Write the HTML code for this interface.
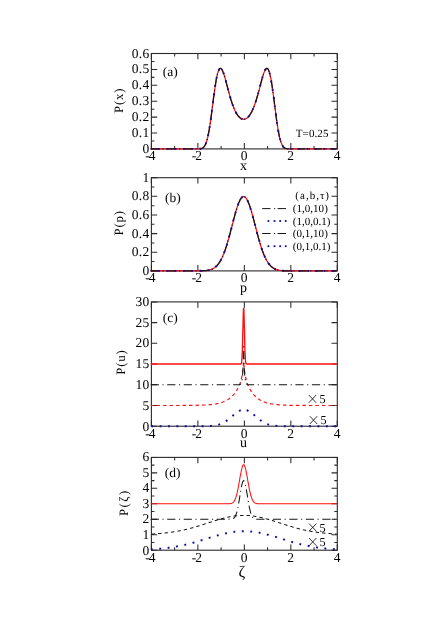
<!DOCTYPE html>
<html><head><meta charset="utf-8"><title>figure</title>
<style>
html,body{margin:0;padding:0;background:#ffffff;}
body{width:436px;height:617px;position:relative;overflow:hidden;font-family:"Liberation Serif",serif;}
</style></head><body>
<svg width="436" height="617" viewBox="0 0 436 617" text-rendering="geometricPrecision" style="position:absolute;left:0;top:0;will-change:transform;opacity:0.999;font-family:'Liberation Serif', serif;">
<rect x="0" y="0" width="436" height="617" fill="#ffffff"/>
<path d="M151.40,148.90 v-5.80 M151.40,53.50 v5.80 M174.64,148.90 v-3.00 M174.64,53.50 v3.00 M197.88,148.90 v-5.80 M197.88,53.50 v5.80 M221.11,148.90 v-3.00 M221.11,53.50 v3.00 M244.35,148.90 v-5.80 M244.35,53.50 v5.80 M267.59,148.90 v-3.00 M267.59,53.50 v3.00 M290.83,148.90 v-5.80 M290.83,53.50 v5.80 M314.06,148.90 v-3.00 M314.06,53.50 v3.00 M337.30,148.90 v-5.80 M337.30,53.50 v5.80 M151.40,148.90 h5.80 M337.30,148.90 h-5.80 M151.40,133.00 h5.80 M337.30,133.00 h-5.80 M151.40,117.10 h5.80 M337.30,117.10 h-5.80 M151.40,101.20 h5.80 M337.30,101.20 h-5.80 M151.40,85.30 h5.80 M337.30,85.30 h-5.80 M151.40,69.40 h5.80 M337.30,69.40 h-5.80 M151.40,53.50 h5.80 M337.30,53.50 h-5.80 M151.40,140.95 h3.00 M337.30,140.95 h-3.00 M151.40,125.05 h3.00 M337.30,125.05 h-3.00 M151.40,109.15 h3.00 M337.30,109.15 h-3.00 M151.40,93.25 h3.00 M337.30,93.25 h-3.00 M151.40,77.35 h3.00 M337.30,77.35 h-3.00 M151.40,61.45 h3.00 M337.30,61.45 h-3.00" fill="none" stroke="#2a2a2a" stroke-width="1.05"/>
<rect x="151.40" y="53.50" width="185.90" height="95.40" fill="none" stroke="#2a2a2a" stroke-width="1.10"/>
<path d="M151.40,270.90 v-5.80 M151.40,177.70 v5.80 M197.88,270.90 v-5.80 M197.88,177.70 v5.80 M244.35,270.90 v-5.80 M244.35,177.70 v5.80 M290.83,270.90 v-5.80 M290.83,177.70 v5.80 M337.30,270.90 v-5.80 M337.30,177.70 v5.80 M151.40,270.90 h5.80 M337.30,270.90 h-5.80 M151.40,252.26 h5.80 M337.30,252.26 h-5.80 M151.40,233.62 h5.80 M337.30,233.62 h-5.80 M151.40,214.98 h5.80 M337.30,214.98 h-5.80 M151.40,196.34 h5.80 M337.30,196.34 h-5.80 M151.40,177.70 h5.80 M337.30,177.70 h-5.80 M151.40,261.58 h3.00 M337.30,261.58 h-3.00 M151.40,242.94 h3.00 M337.30,242.94 h-3.00 M151.40,224.30 h3.00 M337.30,224.30 h-3.00 M151.40,205.66 h3.00 M337.30,205.66 h-3.00 M151.40,187.02 h3.00 M337.30,187.02 h-3.00" fill="none" stroke="#2a2a2a" stroke-width="1.05"/>
<rect x="151.40" y="177.70" width="185.90" height="93.20" fill="none" stroke="#2a2a2a" stroke-width="1.10"/>
<path d="M151.40,426.20 v-5.80 M151.40,301.90 v5.80 M197.88,426.20 v-5.80 M197.88,301.90 v5.80 M244.35,426.20 v-5.80 M244.35,301.90 v5.80 M290.83,426.20 v-5.80 M290.83,301.90 v5.80 M337.30,426.20 v-5.80 M337.30,301.90 v5.80 M151.40,426.20 h5.80 M337.30,426.20 h-5.80 M151.40,405.48 h5.80 M337.30,405.48 h-5.80 M151.40,384.77 h5.80 M337.30,384.77 h-5.80 M151.40,364.05 h5.80 M337.30,364.05 h-5.80 M151.40,343.33 h5.80 M337.30,343.33 h-5.80 M151.40,322.62 h5.80 M337.30,322.62 h-5.80 M151.40,301.90 h5.80 M337.30,301.90 h-5.80" fill="none" stroke="#2a2a2a" stroke-width="1.05"/>
<rect x="151.40" y="301.90" width="185.90" height="124.30" fill="none" stroke="#2a2a2a" stroke-width="1.10"/>
<path d="M151.40,550.20 v-5.80 M151.40,457.40 v5.80 M174.64,550.20 v-3.00 M174.64,457.40 v3.00 M197.88,550.20 v-5.80 M197.88,457.40 v5.80 M221.11,550.20 v-3.00 M221.11,457.40 v3.00 M244.35,550.20 v-5.80 M244.35,457.40 v5.80 M267.59,550.20 v-3.00 M267.59,457.40 v3.00 M290.83,550.20 v-5.80 M290.83,457.40 v5.80 M314.06,550.20 v-3.00 M314.06,457.40 v3.00 M337.30,550.20 v-5.80 M337.30,457.40 v5.80 M151.40,550.20 h5.80 M337.30,550.20 h-5.80 M151.40,534.73 h5.80 M337.30,534.73 h-5.80 M151.40,519.27 h5.80 M337.30,519.27 h-5.80 M151.40,503.80 h5.80 M337.30,503.80 h-5.80 M151.40,488.33 h5.80 M337.30,488.33 h-5.80 M151.40,472.87 h5.80 M337.30,472.87 h-5.80 M151.40,457.40 h5.80 M337.30,457.40 h-5.80 M151.40,542.47 h3.00 M337.30,542.47 h-3.00 M151.40,527.00 h3.00 M337.30,527.00 h-3.00 M151.40,511.53 h3.00 M337.30,511.53 h-3.00 M151.40,496.07 h3.00 M337.30,496.07 h-3.00 M151.40,480.60 h3.00 M337.30,480.60 h-3.00 M151.40,465.13 h3.00 M337.30,465.13 h-3.00" fill="none" stroke="#2a2a2a" stroke-width="1.05"/>
<rect x="151.40" y="457.40" width="185.90" height="92.80" fill="none" stroke="#2a2a2a" stroke-width="1.10"/>
<path d="M150.7,148.9 L151.2,148.9 L151.6,148.9 L152.1,148.9 L152.6,148.9 L153.0,148.9 L153.5,148.9 L154.0,148.9 L154.4,148.9 L154.9,148.9 L155.3,148.9 L155.8,148.9 L156.3,148.9 L156.7,148.9 L157.2,148.9 L157.7,148.9 L158.1,148.9 L158.6,148.9 L159.1,148.9 L159.5,148.9 L160.0,148.9 L160.5,148.9 L160.9,148.9 L161.4,148.9 L161.9,148.9 L162.3,148.9 L162.8,148.9 L163.2,148.9 L163.7,148.9 L164.2,148.9 L164.6,148.9 L165.1,148.9 L165.6,148.9 L166.0,148.9 L166.5,148.9 L167.0,148.9 L167.4,148.9 L167.9,148.9 L168.4,148.9 L168.8,148.9 L169.3,148.9 L169.8,148.9 L170.2,148.9 L170.7,148.9 L171.1,148.9 L171.6,148.9 L172.1,148.9 L172.5,148.9 L173.0,148.9 L173.5,148.9 L173.9,148.9 L174.4,148.9 L174.9,148.9 L175.3,148.9 L175.8,148.9 L176.3,148.9 L176.7,148.9 L177.2,148.9 L177.7,148.9 L178.1,148.9 L178.6,148.9 L179.0,148.9 L179.5,148.9 L180.0,148.9 L180.4,148.9 L180.9,148.9 L181.4,148.9 L181.8,148.9 L182.3,148.9 L182.8,148.9 L183.2,148.9 L183.7,148.9 L184.2,148.9 L184.6,148.9 L185.1,148.9 L185.6,148.9 L186.0,148.9 L186.5,148.9 L187.0,148.9 L187.4,148.9 L187.9,148.9 L188.3,148.9 L188.8,148.9 L189.3,148.9 L189.7,148.9 L190.2,148.9 L190.7,148.9 L191.1,148.9 L191.6,148.9 L192.1,148.9 L192.5,148.9 L193.0,148.9 L193.5,148.9 L193.9,148.9 L194.4,148.9 L194.9,148.9 L195.3,148.9 L195.8,148.9 L196.2,148.9 L196.7,148.9 L197.2,148.9 L197.6,148.9 L198.1,148.9 L198.6,148.9 L199.0,148.8 L199.5,148.8 L200.0,148.8 L200.4,148.7 L200.9,148.6 L201.4,148.5 L201.8,148.4 L202.3,148.2 L202.8,147.9 L203.2,147.6 L203.7,147.2 L204.1,146.6 L204.6,146.0 L205.1,145.2 L205.5,144.3 L206.0,143.1 L206.5,141.8 L206.9,140.3 L207.4,138.6 L207.9,136.6 L208.3,134.4 L208.8,132.0 L209.3,129.4 L209.7,126.5 L210.2,123.5 L210.7,120.2 L211.1,116.8 L211.6,113.3 L212.0,109.8 L212.5,106.1 L213.0,102.5 L213.4,98.9 L213.9,95.3 L214.4,91.9 L214.8,88.6 L215.3,85.4 L215.8,82.5 L216.2,79.8 L216.7,77.4 L217.2,75.3 L217.6,73.4 L218.1,71.8 L218.6,70.5 L219.0,69.6 L219.5,68.9 L219.9,68.5 L220.4,68.3 L220.9,68.5 L221.3,68.8 L221.8,69.4 L222.3,70.2 L222.7,71.2 L223.2,72.3 L223.7,73.6 L224.1,75.0 L224.6,76.5 L225.1,78.1 L225.5,79.8 L226.0,81.5 L226.5,83.3 L226.9,85.0 L227.4,86.8 L227.8,88.6 L228.3,90.3 L228.8,92.1 L229.2,93.8 L229.7,95.4 L230.2,97.0 L230.6,98.6 L231.1,100.1 L231.6,101.6 L232.0,103.0 L232.5,104.3 L233.0,105.6 L233.4,106.9 L233.9,108.0 L234.4,109.1 L234.8,110.2 L235.3,111.1 L235.7,112.1 L236.2,112.9 L236.7,113.7 L237.1,114.4 L237.6,115.1 L238.1,115.8 L238.5,116.3 L239.0,116.8 L239.5,117.3 L239.9,117.7 L240.4,118.1 L240.9,118.4 L241.3,118.7 L241.8,118.9 L242.3,119.1 L242.7,119.2 L243.2,119.2 L243.7,119.3 L244.1,119.2 L244.6,119.2 L245.0,119.1 L245.5,118.9 L246.0,118.7 L246.4,118.4 L246.9,118.1 L247.4,117.7 L247.8,117.3 L248.3,116.8 L248.8,116.3 L249.2,115.8 L249.7,115.1 L250.2,114.4 L250.6,113.7 L251.1,112.9 L251.6,112.1 L252.0,111.1 L252.5,110.2 L252.9,109.1 L253.4,108.0 L253.9,106.9 L254.3,105.6 L254.8,104.3 L255.3,103.0 L255.7,101.6 L256.2,100.1 L256.7,98.6 L257.1,97.0 L257.6,95.4 L258.1,93.8 L258.5,92.1 L259.0,90.3 L259.5,88.6 L259.9,86.8 L260.4,85.0 L260.8,83.3 L261.3,81.5 L261.8,79.8 L262.2,78.1 L262.7,76.5 L263.2,75.0 L263.6,73.6 L264.1,72.3 L264.6,71.2 L265.0,70.2 L265.5,69.4 L266.0,68.8 L266.4,68.5 L266.9,68.3 L267.4,68.5 L267.8,68.9 L268.3,69.6 L268.7,70.5 L269.2,71.8 L269.7,73.4 L270.1,75.3 L270.6,77.4 L271.1,79.8 L271.5,82.5 L272.0,85.4 L272.5,88.6 L272.9,91.9 L273.4,95.3 L273.9,98.9 L274.3,102.5 L274.8,106.1 L275.3,109.8 L275.7,113.3 L276.2,116.8 L276.6,120.2 L277.1,123.5 L277.6,126.5 L278.0,129.4 L278.5,132.0 L279.0,134.4 L279.4,136.6 L279.9,138.6 L280.4,140.3 L280.8,141.8 L281.3,143.1 L281.8,144.3 L282.2,145.2 L282.7,146.0 L283.2,146.6 L283.6,147.2 L284.1,147.6 L284.5,147.9 L285.0,148.2 L285.5,148.4 L285.9,148.5 L286.4,148.6 L286.9,148.7 L287.3,148.8 L287.8,148.8 L288.3,148.8 L288.7,148.9 L289.2,148.9 L289.7,148.9 L290.1,148.9 L290.6,148.9 L291.1,148.9 L291.5,148.9 L292.0,148.9 L292.4,148.9 L292.9,148.9 L293.4,148.9 L293.8,148.9 L294.3,148.9 L294.8,148.9 L295.2,148.9 L295.7,148.9 L296.2,148.9 L296.6,148.9 L297.1,148.9 L297.6,148.9 L298.0,148.9 L298.5,148.9 L299.0,148.9 L299.4,148.9 L299.9,148.9 L300.3,148.9 L300.8,148.9 L301.3,148.9 L301.7,148.9 L302.2,148.9 L302.7,148.9 L303.1,148.9 L303.6,148.9 L304.1,148.9 L304.5,148.9 L305.0,148.9 L305.5,148.9 L305.9,148.9 L306.4,148.9 L306.9,148.9 L307.3,148.9 L307.8,148.9 L308.3,148.9 L308.7,148.9 L309.2,148.9 L309.6,148.9 L310.1,148.9 L310.6,148.9 L311.0,148.9 L311.5,148.9 L312.0,148.9 L312.4,148.9 L312.9,148.9 L313.4,148.9 L313.8,148.9 L314.3,148.9 L314.8,148.9 L315.2,148.9 L315.7,148.9 L316.2,148.9 L316.6,148.9 L317.1,148.9 L317.5,148.9 L318.0,148.9 L318.5,148.9 L318.9,148.9 L319.4,148.9 L319.9,148.9 L320.3,148.9 L320.8,148.9 L321.3,148.9 L321.7,148.9 L322.2,148.9 L322.7,148.9 L323.1,148.9 L323.6,148.9 L324.1,148.9 L324.5,148.9 L325.0,148.9 L325.4,148.9 L325.9,148.9 L326.4,148.9 L326.8,148.9 L327.3,148.9 L327.8,148.9 L328.2,148.9 L328.7,148.9 L329.2,148.9 L329.6,148.9 L330.1,148.9 L330.6,148.9 L331.0,148.9 L331.5,148.9 L332.0,148.9 L332.4,148.9 L332.9,148.9 L333.3,148.9 L333.8,148.9 L334.3,148.9 L334.7,148.9 L335.2,148.9 L335.7,148.9 L336.1,148.9 L336.6,148.9" fill="none" stroke="#ff1010" stroke-width="1.25" stroke-linejoin="round"/>
<path d="M150.7,148.9 L151.2,148.9 L151.6,148.9 L152.1,148.9 L152.6,148.9 L153.0,148.9 L153.5,148.9 L154.0,148.9 L154.4,148.9 L154.9,148.9 L155.3,148.9 L155.8,148.9 L156.3,148.9 L156.7,148.9 L157.2,148.9 L157.7,148.9 L158.1,148.9 L158.6,148.9 L159.1,148.9 L159.5,148.9 L160.0,148.9 L160.5,148.9 L160.9,148.9 L161.4,148.9 L161.9,148.9 L162.3,148.9 L162.8,148.9 L163.2,148.9 L163.7,148.9 L164.2,148.9 L164.6,148.9 L165.1,148.9 L165.6,148.9 L166.0,148.9 L166.5,148.9 L167.0,148.9 L167.4,148.9 L167.9,148.9 L168.4,148.9 L168.8,148.9 L169.3,148.9 L169.8,148.9 L170.2,148.9 L170.7,148.9 L171.1,148.9 L171.6,148.9 L172.1,148.9 L172.5,148.9 L173.0,148.9 L173.5,148.9 L173.9,148.9 L174.4,148.9 L174.9,148.9 L175.3,148.9 L175.8,148.9 L176.3,148.9 L176.7,148.9 L177.2,148.9 L177.7,148.9 L178.1,148.9 L178.6,148.9 L179.0,148.9 L179.5,148.9 L180.0,148.9 L180.4,148.9 L180.9,148.9 L181.4,148.9 L181.8,148.9 L182.3,148.9 L182.8,148.9 L183.2,148.9 L183.7,148.9 L184.2,148.9 L184.6,148.9 L185.1,148.9 L185.6,148.9 L186.0,148.9 L186.5,148.9 L187.0,148.9 L187.4,148.9 L187.9,148.9 L188.3,148.9 L188.8,148.9 L189.3,148.9 L189.7,148.9 L190.2,148.9 L190.7,148.9 L191.1,148.9 L191.6,148.9 L192.1,148.9 L192.5,148.9 L193.0,148.9 L193.5,148.9 L193.9,148.9 L194.4,148.9 L194.9,148.9 L195.3,148.9 L195.8,148.9 L196.2,148.9 L196.7,148.9 L197.2,148.9 L197.6,148.9 L198.1,148.9 L198.6,148.9 L199.0,148.8 L199.5,148.8 L200.0,148.8 L200.4,148.7 L200.9,148.6 L201.4,148.5 L201.8,148.4 L202.3,148.2 L202.8,147.9 L203.2,147.6 L203.7,147.2 L204.1,146.6 L204.6,146.0 L205.1,145.2 L205.5,144.3 L206.0,143.1 L206.5,141.8 L206.9,140.3 L207.4,138.6 L207.9,136.6 L208.3,134.4 L208.8,132.0 L209.3,129.4 L209.7,126.5 L210.2,123.5 L210.7,120.2 L211.1,116.8 L211.6,113.3 L212.0,109.8 L212.5,106.1 L213.0,102.5 L213.4,98.9 L213.9,95.3 L214.4,91.9 L214.8,88.6 L215.3,85.4 L215.8,82.5 L216.2,79.8 L216.7,77.4 L217.2,75.3 L217.6,73.4 L218.1,71.8 L218.6,70.5 L219.0,69.6 L219.5,68.9 L219.9,68.5 L220.4,68.3 L220.9,68.5 L221.3,68.8 L221.8,69.4 L222.3,70.2 L222.7,71.2 L223.2,72.3 L223.7,73.6 L224.1,75.0 L224.6,76.5 L225.1,78.1 L225.5,79.8 L226.0,81.5 L226.5,83.3 L226.9,85.0 L227.4,86.8 L227.8,88.6 L228.3,90.3 L228.8,92.1 L229.2,93.8 L229.7,95.4 L230.2,97.0 L230.6,98.6 L231.1,100.1 L231.6,101.6 L232.0,103.0 L232.5,104.3 L233.0,105.6 L233.4,106.9 L233.9,108.0 L234.4,109.1 L234.8,110.2 L235.3,111.1 L235.7,112.1 L236.2,112.9 L236.7,113.7 L237.1,114.4 L237.6,115.1 L238.1,115.8 L238.5,116.3 L239.0,116.8 L239.5,117.3 L239.9,117.7 L240.4,118.1 L240.9,118.4 L241.3,118.7 L241.8,118.9 L242.3,119.1 L242.7,119.2 L243.2,119.2 L243.7,119.3 L244.1,119.2 L244.6,119.2 L245.0,119.1 L245.5,118.9 L246.0,118.7 L246.4,118.4 L246.9,118.1 L247.4,117.7 L247.8,117.3 L248.3,116.8 L248.8,116.3 L249.2,115.8 L249.7,115.1 L250.2,114.4 L250.6,113.7 L251.1,112.9 L251.6,112.1 L252.0,111.1 L252.5,110.2 L252.9,109.1 L253.4,108.0 L253.9,106.9 L254.3,105.6 L254.8,104.3 L255.3,103.0 L255.7,101.6 L256.2,100.1 L256.7,98.6 L257.1,97.0 L257.6,95.4 L258.1,93.8 L258.5,92.1 L259.0,90.3 L259.5,88.6 L259.9,86.8 L260.4,85.0 L260.8,83.3 L261.3,81.5 L261.8,79.8 L262.2,78.1 L262.7,76.5 L263.2,75.0 L263.6,73.6 L264.1,72.3 L264.6,71.2 L265.0,70.2 L265.5,69.4 L266.0,68.8 L266.4,68.5 L266.9,68.3 L267.4,68.5 L267.8,68.9 L268.3,69.6 L268.7,70.5 L269.2,71.8 L269.7,73.4 L270.1,75.3 L270.6,77.4 L271.1,79.8 L271.5,82.5 L272.0,85.4 L272.5,88.6 L272.9,91.9 L273.4,95.3 L273.9,98.9 L274.3,102.5 L274.8,106.1 L275.3,109.8 L275.7,113.3 L276.2,116.8 L276.6,120.2 L277.1,123.5 L277.6,126.5 L278.0,129.4 L278.5,132.0 L279.0,134.4 L279.4,136.6 L279.9,138.6 L280.4,140.3 L280.8,141.8 L281.3,143.1 L281.8,144.3 L282.2,145.2 L282.7,146.0 L283.2,146.6 L283.6,147.2 L284.1,147.6 L284.5,147.9 L285.0,148.2 L285.5,148.4 L285.9,148.5 L286.4,148.6 L286.9,148.7 L287.3,148.8 L287.8,148.8 L288.3,148.8 L288.7,148.9 L289.2,148.9 L289.7,148.9 L290.1,148.9 L290.6,148.9 L291.1,148.9 L291.5,148.9 L292.0,148.9 L292.4,148.9 L292.9,148.9 L293.4,148.9 L293.8,148.9 L294.3,148.9 L294.8,148.9 L295.2,148.9 L295.7,148.9 L296.2,148.9 L296.6,148.9 L297.1,148.9 L297.6,148.9 L298.0,148.9 L298.5,148.9 L299.0,148.9 L299.4,148.9 L299.9,148.9 L300.3,148.9 L300.8,148.9 L301.3,148.9 L301.7,148.9 L302.2,148.9 L302.7,148.9 L303.1,148.9 L303.6,148.9 L304.1,148.9 L304.5,148.9 L305.0,148.9 L305.5,148.9 L305.9,148.9 L306.4,148.9 L306.9,148.9 L307.3,148.9 L307.8,148.9 L308.3,148.9 L308.7,148.9 L309.2,148.9 L309.6,148.9 L310.1,148.9 L310.6,148.9 L311.0,148.9 L311.5,148.9 L312.0,148.9 L312.4,148.9 L312.9,148.9 L313.4,148.9 L313.8,148.9 L314.3,148.9 L314.8,148.9 L315.2,148.9 L315.7,148.9 L316.2,148.9 L316.6,148.9 L317.1,148.9 L317.5,148.9 L318.0,148.9 L318.5,148.9 L318.9,148.9 L319.4,148.9 L319.9,148.9 L320.3,148.9 L320.8,148.9 L321.3,148.9 L321.7,148.9 L322.2,148.9 L322.7,148.9 L323.1,148.9 L323.6,148.9 L324.1,148.9 L324.5,148.9 L325.0,148.9 L325.4,148.9 L325.9,148.9 L326.4,148.9 L326.8,148.9 L327.3,148.9 L327.8,148.9 L328.2,148.9 L328.7,148.9 L329.2,148.9 L329.6,148.9 L330.1,148.9 L330.6,148.9 L331.0,148.9 L331.5,148.9 L332.0,148.9 L332.4,148.9 L332.9,148.9 L333.3,148.9 L333.8,148.9 L334.3,148.9 L334.7,148.9 L335.2,148.9 L335.7,148.9 L336.1,148.9 L336.6,148.9" fill="none" stroke="#151515" stroke-width="1.25" stroke-dasharray="8.2 3.6 1.1 3.6" stroke-dashoffset="0.0" stroke-linejoin="round"/>
<path d="M150.7,148.9 L151.2,148.9 L151.6,148.9 L152.1,148.9 L152.6,148.9 L153.0,148.9 L153.5,148.9 L154.0,148.9 L154.4,148.9 L154.9,148.9 L155.3,148.9 L155.8,148.9 L156.3,148.9 L156.7,148.9 L157.2,148.9 L157.7,148.9 L158.1,148.9 L158.6,148.9 L159.1,148.9 L159.5,148.9 L160.0,148.9 L160.5,148.9 L160.9,148.9 L161.4,148.9 L161.9,148.9 L162.3,148.9 L162.8,148.9 L163.2,148.9 L163.7,148.9 L164.2,148.9 L164.6,148.9 L165.1,148.9 L165.6,148.9 L166.0,148.9 L166.5,148.9 L167.0,148.9 L167.4,148.9 L167.9,148.9 L168.4,148.9 L168.8,148.9 L169.3,148.9 L169.8,148.9 L170.2,148.9 L170.7,148.9 L171.1,148.9 L171.6,148.9 L172.1,148.9 L172.5,148.9 L173.0,148.9 L173.5,148.9 L173.9,148.9 L174.4,148.9 L174.9,148.9 L175.3,148.9 L175.8,148.9 L176.3,148.9 L176.7,148.9 L177.2,148.9 L177.7,148.9 L178.1,148.9 L178.6,148.9 L179.0,148.9 L179.5,148.9 L180.0,148.9 L180.4,148.9 L180.9,148.9 L181.4,148.9 L181.8,148.9 L182.3,148.9 L182.8,148.9 L183.2,148.9 L183.7,148.9 L184.2,148.9 L184.6,148.9 L185.1,148.9 L185.6,148.9 L186.0,148.9 L186.5,148.9 L187.0,148.9 L187.4,148.9 L187.9,148.9 L188.3,148.9 L188.8,148.9 L189.3,148.9 L189.7,148.9 L190.2,148.9 L190.7,148.9 L191.1,148.9 L191.6,148.9 L192.1,148.9 L192.5,148.9 L193.0,148.9 L193.5,148.9 L193.9,148.9 L194.4,148.9 L194.9,148.9 L195.3,148.9 L195.8,148.9 L196.2,148.9 L196.7,148.9 L197.2,148.9 L197.6,148.9 L198.1,148.9 L198.6,148.9 L199.0,148.8 L199.5,148.8 L200.0,148.8 L200.4,148.7 L200.9,148.6 L201.4,148.5 L201.8,148.4 L202.3,148.2 L202.8,147.9 L203.2,147.6 L203.7,147.2 L204.1,146.6 L204.6,146.0 L205.1,145.2 L205.5,144.3 L206.0,143.1 L206.5,141.8 L206.9,140.3 L207.4,138.6 L207.9,136.6 L208.3,134.4 L208.8,132.0 L209.3,129.4 L209.7,126.5 L210.2,123.5 L210.7,120.2 L211.1,116.8 L211.6,113.3 L212.0,109.8 L212.5,106.1 L213.0,102.5 L213.4,98.9 L213.9,95.3 L214.4,91.9 L214.8,88.6 L215.3,85.4 L215.8,82.5 L216.2,79.8 L216.7,77.4 L217.2,75.3 L217.6,73.4 L218.1,71.8 L218.6,70.5 L219.0,69.6 L219.5,68.9 L219.9,68.5 L220.4,68.3 L220.9,68.5 L221.3,68.8 L221.8,69.4 L222.3,70.2 L222.7,71.2 L223.2,72.3 L223.7,73.6 L224.1,75.0 L224.6,76.5 L225.1,78.1 L225.5,79.8 L226.0,81.5 L226.5,83.3 L226.9,85.0 L227.4,86.8 L227.8,88.6 L228.3,90.3 L228.8,92.1 L229.2,93.8 L229.7,95.4 L230.2,97.0 L230.6,98.6 L231.1,100.1 L231.6,101.6 L232.0,103.0 L232.5,104.3 L233.0,105.6 L233.4,106.9 L233.9,108.0 L234.4,109.1 L234.8,110.2 L235.3,111.1 L235.7,112.1 L236.2,112.9 L236.7,113.7 L237.1,114.4 L237.6,115.1 L238.1,115.8 L238.5,116.3 L239.0,116.8 L239.5,117.3 L239.9,117.7 L240.4,118.1 L240.9,118.4 L241.3,118.7 L241.8,118.9 L242.3,119.1 L242.7,119.2 L243.2,119.2 L243.7,119.3 L244.1,119.2 L244.6,119.2 L245.0,119.1 L245.5,118.9 L246.0,118.7 L246.4,118.4 L246.9,118.1 L247.4,117.7 L247.8,117.3 L248.3,116.8 L248.8,116.3 L249.2,115.8 L249.7,115.1 L250.2,114.4 L250.6,113.7 L251.1,112.9 L251.6,112.1 L252.0,111.1 L252.5,110.2 L252.9,109.1 L253.4,108.0 L253.9,106.9 L254.3,105.6 L254.8,104.3 L255.3,103.0 L255.7,101.6 L256.2,100.1 L256.7,98.6 L257.1,97.0 L257.6,95.4 L258.1,93.8 L258.5,92.1 L259.0,90.3 L259.5,88.6 L259.9,86.8 L260.4,85.0 L260.8,83.3 L261.3,81.5 L261.8,79.8 L262.2,78.1 L262.7,76.5 L263.2,75.0 L263.6,73.6 L264.1,72.3 L264.6,71.2 L265.0,70.2 L265.5,69.4 L266.0,68.8 L266.4,68.5 L266.9,68.3 L267.4,68.5 L267.8,68.9 L268.3,69.6 L268.7,70.5 L269.2,71.8 L269.7,73.4 L270.1,75.3 L270.6,77.4 L271.1,79.8 L271.5,82.5 L272.0,85.4 L272.5,88.6 L272.9,91.9 L273.4,95.3 L273.9,98.9 L274.3,102.5 L274.8,106.1 L275.3,109.8 L275.7,113.3 L276.2,116.8 L276.6,120.2 L277.1,123.5 L277.6,126.5 L278.0,129.4 L278.5,132.0 L279.0,134.4 L279.4,136.6 L279.9,138.6 L280.4,140.3 L280.8,141.8 L281.3,143.1 L281.8,144.3 L282.2,145.2 L282.7,146.0 L283.2,146.6 L283.6,147.2 L284.1,147.6 L284.5,147.9 L285.0,148.2 L285.5,148.4 L285.9,148.5 L286.4,148.6 L286.9,148.7 L287.3,148.8 L287.8,148.8 L288.3,148.8 L288.7,148.9 L289.2,148.9 L289.7,148.9 L290.1,148.9 L290.6,148.9 L291.1,148.9 L291.5,148.9 L292.0,148.9 L292.4,148.9 L292.9,148.9 L293.4,148.9 L293.8,148.9 L294.3,148.9 L294.8,148.9 L295.2,148.9 L295.7,148.9 L296.2,148.9 L296.6,148.9 L297.1,148.9 L297.6,148.9 L298.0,148.9 L298.5,148.9 L299.0,148.9 L299.4,148.9 L299.9,148.9 L300.3,148.9 L300.8,148.9 L301.3,148.9 L301.7,148.9 L302.2,148.9 L302.7,148.9 L303.1,148.9 L303.6,148.9 L304.1,148.9 L304.5,148.9 L305.0,148.9 L305.5,148.9 L305.9,148.9 L306.4,148.9 L306.9,148.9 L307.3,148.9 L307.8,148.9 L308.3,148.9 L308.7,148.9 L309.2,148.9 L309.6,148.9 L310.1,148.9 L310.6,148.9 L311.0,148.9 L311.5,148.9 L312.0,148.9 L312.4,148.9 L312.9,148.9 L313.4,148.9 L313.8,148.9 L314.3,148.9 L314.8,148.9 L315.2,148.9 L315.7,148.9 L316.2,148.9 L316.6,148.9 L317.1,148.9 L317.5,148.9 L318.0,148.9 L318.5,148.9 L318.9,148.9 L319.4,148.9 L319.9,148.9 L320.3,148.9 L320.8,148.9 L321.3,148.9 L321.7,148.9 L322.2,148.9 L322.7,148.9 L323.1,148.9 L323.6,148.9 L324.1,148.9 L324.5,148.9 L325.0,148.9 L325.4,148.9 L325.9,148.9 L326.4,148.9 L326.8,148.9 L327.3,148.9 L327.8,148.9 L328.2,148.9 L328.7,148.9 L329.2,148.9 L329.6,148.9 L330.1,148.9 L330.6,148.9 L331.0,148.9 L331.5,148.9 L332.0,148.9 L332.4,148.9 L332.9,148.9 L333.3,148.9 L333.8,148.9 L334.3,148.9 L334.7,148.9 L335.2,148.9 L335.7,148.9 L336.1,148.9 L336.6,148.9" fill="none" stroke="#0c0ca0" stroke-width="1.9" stroke-dasharray="1.9 6.4" stroke-dashoffset="1.0" stroke-linejoin="round"/>
<path d="M150.7,270.9 L151.2,270.9 L151.6,270.9 L152.1,270.9 L152.6,270.9 L153.0,270.9 L153.5,270.9 L154.0,270.9 L154.4,270.9 L154.9,270.9 L155.3,270.9 L155.8,270.9 L156.3,270.9 L156.7,270.9 L157.2,270.9 L157.7,270.9 L158.1,270.9 L158.6,270.9 L159.1,270.9 L159.5,270.9 L160.0,270.9 L160.5,270.9 L160.9,270.9 L161.4,270.9 L161.9,270.9 L162.3,270.9 L162.8,270.9 L163.2,270.9 L163.7,270.9 L164.2,270.9 L164.6,270.9 L165.1,270.9 L165.6,270.9 L166.0,270.9 L166.5,270.9 L167.0,270.9 L167.4,270.9 L167.9,270.9 L168.4,270.9 L168.8,270.9 L169.3,270.9 L169.8,270.9 L170.2,270.9 L170.7,270.9 L171.1,270.9 L171.6,270.9 L172.1,270.9 L172.5,270.9 L173.0,270.9 L173.5,270.9 L173.9,270.9 L174.4,270.9 L174.9,270.9 L175.3,270.9 L175.8,270.9 L176.3,270.9 L176.7,270.9 L177.2,270.9 L177.7,270.9 L178.1,270.9 L178.6,270.9 L179.0,270.9 L179.5,270.9 L180.0,270.9 L180.4,270.9 L180.9,270.9 L181.4,270.9 L181.8,270.9 L182.3,270.9 L182.8,270.9 L183.2,270.9 L183.7,270.9 L184.2,270.9 L184.6,270.9 L185.1,270.9 L185.6,270.9 L186.0,270.9 L186.5,270.9 L187.0,270.9 L187.4,270.9 L187.9,270.9 L188.3,270.9 L188.8,270.9 L189.3,270.9 L189.7,270.9 L190.2,270.9 L190.7,270.9 L191.1,270.9 L191.6,270.9 L192.1,270.9 L192.5,270.9 L193.0,270.9 L193.5,270.9 L193.9,270.9 L194.4,270.9 L194.9,270.9 L195.3,270.9 L195.8,270.9 L196.2,270.9 L196.7,270.9 L197.2,270.9 L197.6,270.9 L198.1,270.9 L198.6,270.9 L199.0,270.9 L199.5,270.8 L200.0,270.8 L200.4,270.8 L200.9,270.8 L201.4,270.8 L201.8,270.8 L202.3,270.8 L202.8,270.7 L203.2,270.7 L203.7,270.7 L204.1,270.7 L204.6,270.6 L205.1,270.6 L205.5,270.6 L206.0,270.5 L206.5,270.5 L206.9,270.4 L207.4,270.3 L207.9,270.3 L208.3,270.2 L208.8,270.1 L209.3,270.0 L209.7,269.9 L210.2,269.7 L210.7,269.6 L211.1,269.4 L211.6,269.3 L212.0,269.1 L212.5,268.9 L213.0,268.6 L213.4,268.4 L213.9,268.1 L214.4,267.8 L214.8,267.5 L215.3,267.1 L215.8,266.7 L216.2,266.3 L216.7,265.9 L217.2,265.4 L217.6,264.8 L218.1,264.3 L218.6,263.7 L219.0,263.0 L219.5,262.4 L219.9,261.6 L220.4,260.8 L220.9,260.0 L221.3,259.1 L221.8,258.2 L222.3,257.2 L222.7,256.2 L223.2,255.1 L223.7,254.0 L224.1,252.8 L224.6,251.5 L225.1,250.2 L225.5,248.9 L226.0,247.5 L226.5,246.0 L226.9,244.5 L227.4,243.0 L227.8,241.4 L228.3,239.8 L228.8,238.1 L229.2,236.4 L229.7,234.7 L230.2,233.0 L230.6,231.2 L231.1,229.4 L231.6,227.6 L232.0,225.8 L232.5,224.0 L233.0,222.2 L233.4,220.4 L233.9,218.6 L234.4,216.9 L234.8,215.2 L235.3,213.5 L235.7,211.9 L236.2,210.3 L236.7,208.8 L237.1,207.3 L237.6,205.9 L238.1,204.6 L238.5,203.4 L239.0,202.3 L239.5,201.2 L239.9,200.2 L240.4,199.4 L240.9,198.6 L241.3,198.0 L241.8,197.5 L242.3,197.1 L242.7,196.8 L243.2,196.6 L243.7,196.5 L244.1,196.6 L244.6,196.8 L245.0,197.1 L245.5,197.5 L246.0,198.0 L246.4,198.6 L246.9,199.4 L247.4,200.2 L247.8,201.2 L248.3,202.3 L248.8,203.4 L249.2,204.6 L249.7,205.9 L250.2,207.3 L250.6,208.8 L251.1,210.3 L251.6,211.9 L252.0,213.5 L252.5,215.2 L252.9,216.9 L253.4,218.6 L253.9,220.4 L254.3,222.2 L254.8,224.0 L255.3,225.8 L255.7,227.6 L256.2,229.4 L256.7,231.2 L257.1,233.0 L257.6,234.7 L258.1,236.4 L258.5,238.1 L259.0,239.8 L259.5,241.4 L259.9,243.0 L260.4,244.5 L260.8,246.0 L261.3,247.5 L261.8,248.9 L262.2,250.2 L262.7,251.5 L263.2,252.8 L263.6,254.0 L264.1,255.1 L264.6,256.2 L265.0,257.2 L265.5,258.2 L266.0,259.1 L266.4,260.0 L266.9,260.8 L267.4,261.6 L267.8,262.4 L268.3,263.0 L268.7,263.7 L269.2,264.3 L269.7,264.8 L270.1,265.4 L270.6,265.9 L271.1,266.3 L271.5,266.7 L272.0,267.1 L272.5,267.5 L272.9,267.8 L273.4,268.1 L273.9,268.4 L274.3,268.6 L274.8,268.9 L275.3,269.1 L275.7,269.3 L276.2,269.4 L276.6,269.6 L277.1,269.7 L277.6,269.9 L278.0,270.0 L278.5,270.1 L279.0,270.2 L279.4,270.3 L279.9,270.3 L280.4,270.4 L280.8,270.5 L281.3,270.5 L281.8,270.6 L282.2,270.6 L282.7,270.6 L283.2,270.7 L283.6,270.7 L284.1,270.7 L284.5,270.7 L285.0,270.8 L285.5,270.8 L285.9,270.8 L286.4,270.8 L286.9,270.8 L287.3,270.8 L287.8,270.8 L288.3,270.9 L288.7,270.9 L289.2,270.9 L289.7,270.9 L290.1,270.9 L290.6,270.9 L291.1,270.9 L291.5,270.9 L292.0,270.9 L292.4,270.9 L292.9,270.9 L293.4,270.9 L293.8,270.9 L294.3,270.9 L294.8,270.9 L295.2,270.9 L295.7,270.9 L296.2,270.9 L296.6,270.9 L297.1,270.9 L297.6,270.9 L298.0,270.9 L298.5,270.9 L299.0,270.9 L299.4,270.9 L299.9,270.9 L300.3,270.9 L300.8,270.9 L301.3,270.9 L301.7,270.9 L302.2,270.9 L302.7,270.9 L303.1,270.9 L303.6,270.9 L304.1,270.9 L304.5,270.9 L305.0,270.9 L305.5,270.9 L305.9,270.9 L306.4,270.9 L306.9,270.9 L307.3,270.9 L307.8,270.9 L308.3,270.9 L308.7,270.9 L309.2,270.9 L309.6,270.9 L310.1,270.9 L310.6,270.9 L311.0,270.9 L311.5,270.9 L312.0,270.9 L312.4,270.9 L312.9,270.9 L313.4,270.9 L313.8,270.9 L314.3,270.9 L314.8,270.9 L315.2,270.9 L315.7,270.9 L316.2,270.9 L316.6,270.9 L317.1,270.9 L317.5,270.9 L318.0,270.9 L318.5,270.9 L318.9,270.9 L319.4,270.9 L319.9,270.9 L320.3,270.9 L320.8,270.9 L321.3,270.9 L321.7,270.9 L322.2,270.9 L322.7,270.9 L323.1,270.9 L323.6,270.9 L324.1,270.9 L324.5,270.9 L325.0,270.9 L325.4,270.9 L325.9,270.9 L326.4,270.9 L326.8,270.9 L327.3,270.9 L327.8,270.9 L328.2,270.9 L328.7,270.9 L329.2,270.9 L329.6,270.9 L330.1,270.9 L330.6,270.9 L331.0,270.9 L331.5,270.9 L332.0,270.9 L332.4,270.9 L332.9,270.9 L333.3,270.9 L333.8,270.9 L334.3,270.9 L334.7,270.9 L335.2,270.9 L335.7,270.9 L336.1,270.9 L336.6,270.9" fill="none" stroke="#ff1010" stroke-width="1.25" stroke-linejoin="round"/>
<path d="M150.7,270.9 L151.2,270.9 L151.6,270.9 L152.1,270.9 L152.6,270.9 L153.0,270.9 L153.5,270.9 L154.0,270.9 L154.4,270.9 L154.9,270.9 L155.3,270.9 L155.8,270.9 L156.3,270.9 L156.7,270.9 L157.2,270.9 L157.7,270.9 L158.1,270.9 L158.6,270.9 L159.1,270.9 L159.5,270.9 L160.0,270.9 L160.5,270.9 L160.9,270.9 L161.4,270.9 L161.9,270.9 L162.3,270.9 L162.8,270.9 L163.2,270.9 L163.7,270.9 L164.2,270.9 L164.6,270.9 L165.1,270.9 L165.6,270.9 L166.0,270.9 L166.5,270.9 L167.0,270.9 L167.4,270.9 L167.9,270.9 L168.4,270.9 L168.8,270.9 L169.3,270.9 L169.8,270.9 L170.2,270.9 L170.7,270.9 L171.1,270.9 L171.6,270.9 L172.1,270.9 L172.5,270.9 L173.0,270.9 L173.5,270.9 L173.9,270.9 L174.4,270.9 L174.9,270.9 L175.3,270.9 L175.8,270.9 L176.3,270.9 L176.7,270.9 L177.2,270.9 L177.7,270.9 L178.1,270.9 L178.6,270.9 L179.0,270.9 L179.5,270.9 L180.0,270.9 L180.4,270.9 L180.9,270.9 L181.4,270.9 L181.8,270.9 L182.3,270.9 L182.8,270.9 L183.2,270.9 L183.7,270.9 L184.2,270.9 L184.6,270.9 L185.1,270.9 L185.6,270.9 L186.0,270.9 L186.5,270.9 L187.0,270.9 L187.4,270.9 L187.9,270.9 L188.3,270.9 L188.8,270.9 L189.3,270.9 L189.7,270.9 L190.2,270.9 L190.7,270.9 L191.1,270.9 L191.6,270.9 L192.1,270.9 L192.5,270.9 L193.0,270.9 L193.5,270.9 L193.9,270.9 L194.4,270.9 L194.9,270.9 L195.3,270.9 L195.8,270.9 L196.2,270.9 L196.7,270.9 L197.2,270.9 L197.6,270.9 L198.1,270.9 L198.6,270.9 L199.0,270.9 L199.5,270.8 L200.0,270.8 L200.4,270.8 L200.9,270.8 L201.4,270.8 L201.8,270.8 L202.3,270.8 L202.8,270.7 L203.2,270.7 L203.7,270.7 L204.1,270.7 L204.6,270.6 L205.1,270.6 L205.5,270.6 L206.0,270.5 L206.5,270.5 L206.9,270.4 L207.4,270.3 L207.9,270.3 L208.3,270.2 L208.8,270.1 L209.3,270.0 L209.7,269.9 L210.2,269.7 L210.7,269.6 L211.1,269.4 L211.6,269.3 L212.0,269.1 L212.5,268.9 L213.0,268.6 L213.4,268.4 L213.9,268.1 L214.4,267.8 L214.8,267.5 L215.3,267.1 L215.8,266.7 L216.2,266.3 L216.7,265.9 L217.2,265.4 L217.6,264.8 L218.1,264.3 L218.6,263.7 L219.0,263.0 L219.5,262.4 L219.9,261.6 L220.4,260.8 L220.9,260.0 L221.3,259.1 L221.8,258.2 L222.3,257.2 L222.7,256.2 L223.2,255.1 L223.7,254.0 L224.1,252.8 L224.6,251.5 L225.1,250.2 L225.5,248.9 L226.0,247.5 L226.5,246.0 L226.9,244.5 L227.4,243.0 L227.8,241.4 L228.3,239.8 L228.8,238.1 L229.2,236.4 L229.7,234.7 L230.2,233.0 L230.6,231.2 L231.1,229.4 L231.6,227.6 L232.0,225.8 L232.5,224.0 L233.0,222.2 L233.4,220.4 L233.9,218.6 L234.4,216.9 L234.8,215.2 L235.3,213.5 L235.7,211.9 L236.2,210.3 L236.7,208.8 L237.1,207.3 L237.6,205.9 L238.1,204.6 L238.5,203.4 L239.0,202.3 L239.5,201.2 L239.9,200.2 L240.4,199.4 L240.9,198.6 L241.3,198.0 L241.8,197.5 L242.3,197.1 L242.7,196.8 L243.2,196.6 L243.7,196.5 L244.1,196.6 L244.6,196.8 L245.0,197.1 L245.5,197.5 L246.0,198.0 L246.4,198.6 L246.9,199.4 L247.4,200.2 L247.8,201.2 L248.3,202.3 L248.8,203.4 L249.2,204.6 L249.7,205.9 L250.2,207.3 L250.6,208.8 L251.1,210.3 L251.6,211.9 L252.0,213.5 L252.5,215.2 L252.9,216.9 L253.4,218.6 L253.9,220.4 L254.3,222.2 L254.8,224.0 L255.3,225.8 L255.7,227.6 L256.2,229.4 L256.7,231.2 L257.1,233.0 L257.6,234.7 L258.1,236.4 L258.5,238.1 L259.0,239.8 L259.5,241.4 L259.9,243.0 L260.4,244.5 L260.8,246.0 L261.3,247.5 L261.8,248.9 L262.2,250.2 L262.7,251.5 L263.2,252.8 L263.6,254.0 L264.1,255.1 L264.6,256.2 L265.0,257.2 L265.5,258.2 L266.0,259.1 L266.4,260.0 L266.9,260.8 L267.4,261.6 L267.8,262.4 L268.3,263.0 L268.7,263.7 L269.2,264.3 L269.7,264.8 L270.1,265.4 L270.6,265.9 L271.1,266.3 L271.5,266.7 L272.0,267.1 L272.5,267.5 L272.9,267.8 L273.4,268.1 L273.9,268.4 L274.3,268.6 L274.8,268.9 L275.3,269.1 L275.7,269.3 L276.2,269.4 L276.6,269.6 L277.1,269.7 L277.6,269.9 L278.0,270.0 L278.5,270.1 L279.0,270.2 L279.4,270.3 L279.9,270.3 L280.4,270.4 L280.8,270.5 L281.3,270.5 L281.8,270.6 L282.2,270.6 L282.7,270.6 L283.2,270.7 L283.6,270.7 L284.1,270.7 L284.5,270.7 L285.0,270.8 L285.5,270.8 L285.9,270.8 L286.4,270.8 L286.9,270.8 L287.3,270.8 L287.8,270.8 L288.3,270.9 L288.7,270.9 L289.2,270.9 L289.7,270.9 L290.1,270.9 L290.6,270.9 L291.1,270.9 L291.5,270.9 L292.0,270.9 L292.4,270.9 L292.9,270.9 L293.4,270.9 L293.8,270.9 L294.3,270.9 L294.8,270.9 L295.2,270.9 L295.7,270.9 L296.2,270.9 L296.6,270.9 L297.1,270.9 L297.6,270.9 L298.0,270.9 L298.5,270.9 L299.0,270.9 L299.4,270.9 L299.9,270.9 L300.3,270.9 L300.8,270.9 L301.3,270.9 L301.7,270.9 L302.2,270.9 L302.7,270.9 L303.1,270.9 L303.6,270.9 L304.1,270.9 L304.5,270.9 L305.0,270.9 L305.5,270.9 L305.9,270.9 L306.4,270.9 L306.9,270.9 L307.3,270.9 L307.8,270.9 L308.3,270.9 L308.7,270.9 L309.2,270.9 L309.6,270.9 L310.1,270.9 L310.6,270.9 L311.0,270.9 L311.5,270.9 L312.0,270.9 L312.4,270.9 L312.9,270.9 L313.4,270.9 L313.8,270.9 L314.3,270.9 L314.8,270.9 L315.2,270.9 L315.7,270.9 L316.2,270.9 L316.6,270.9 L317.1,270.9 L317.5,270.9 L318.0,270.9 L318.5,270.9 L318.9,270.9 L319.4,270.9 L319.9,270.9 L320.3,270.9 L320.8,270.9 L321.3,270.9 L321.7,270.9 L322.2,270.9 L322.7,270.9 L323.1,270.9 L323.6,270.9 L324.1,270.9 L324.5,270.9 L325.0,270.9 L325.4,270.9 L325.9,270.9 L326.4,270.9 L326.8,270.9 L327.3,270.9 L327.8,270.9 L328.2,270.9 L328.7,270.9 L329.2,270.9 L329.6,270.9 L330.1,270.9 L330.6,270.9 L331.0,270.9 L331.5,270.9 L332.0,270.9 L332.4,270.9 L332.9,270.9 L333.3,270.9 L333.8,270.9 L334.3,270.9 L334.7,270.9 L335.2,270.9 L335.7,270.9 L336.1,270.9 L336.6,270.9" fill="none" stroke="#151515" stroke-width="1.25" stroke-dasharray="8.2 3.6 1.1 3.6" stroke-dashoffset="0.0" stroke-linejoin="round"/>
<path d="M150.7,270.9 L151.2,270.9 L151.6,270.9 L152.1,270.9 L152.6,270.9 L153.0,270.9 L153.5,270.9 L154.0,270.9 L154.4,270.9 L154.9,270.9 L155.3,270.9 L155.8,270.9 L156.3,270.9 L156.7,270.9 L157.2,270.9 L157.7,270.9 L158.1,270.9 L158.6,270.9 L159.1,270.9 L159.5,270.9 L160.0,270.9 L160.5,270.9 L160.9,270.9 L161.4,270.9 L161.9,270.9 L162.3,270.9 L162.8,270.9 L163.2,270.9 L163.7,270.9 L164.2,270.9 L164.6,270.9 L165.1,270.9 L165.6,270.9 L166.0,270.9 L166.5,270.9 L167.0,270.9 L167.4,270.9 L167.9,270.9 L168.4,270.9 L168.8,270.9 L169.3,270.9 L169.8,270.9 L170.2,270.9 L170.7,270.9 L171.1,270.9 L171.6,270.9 L172.1,270.9 L172.5,270.9 L173.0,270.9 L173.5,270.9 L173.9,270.9 L174.4,270.9 L174.9,270.9 L175.3,270.9 L175.8,270.9 L176.3,270.9 L176.7,270.9 L177.2,270.9 L177.7,270.9 L178.1,270.9 L178.6,270.9 L179.0,270.9 L179.5,270.9 L180.0,270.9 L180.4,270.9 L180.9,270.9 L181.4,270.9 L181.8,270.9 L182.3,270.9 L182.8,270.9 L183.2,270.9 L183.7,270.9 L184.2,270.9 L184.6,270.9 L185.1,270.9 L185.6,270.9 L186.0,270.9 L186.5,270.9 L187.0,270.9 L187.4,270.9 L187.9,270.9 L188.3,270.9 L188.8,270.9 L189.3,270.9 L189.7,270.9 L190.2,270.9 L190.7,270.9 L191.1,270.9 L191.6,270.9 L192.1,270.9 L192.5,270.9 L193.0,270.9 L193.5,270.9 L193.9,270.9 L194.4,270.9 L194.9,270.9 L195.3,270.9 L195.8,270.9 L196.2,270.9 L196.7,270.9 L197.2,270.9 L197.6,270.9 L198.1,270.9 L198.6,270.9 L199.0,270.9 L199.5,270.8 L200.0,270.8 L200.4,270.8 L200.9,270.8 L201.4,270.8 L201.8,270.8 L202.3,270.8 L202.8,270.7 L203.2,270.7 L203.7,270.7 L204.1,270.7 L204.6,270.6 L205.1,270.6 L205.5,270.6 L206.0,270.5 L206.5,270.5 L206.9,270.4 L207.4,270.3 L207.9,270.3 L208.3,270.2 L208.8,270.1 L209.3,270.0 L209.7,269.9 L210.2,269.7 L210.7,269.6 L211.1,269.4 L211.6,269.3 L212.0,269.1 L212.5,268.9 L213.0,268.6 L213.4,268.4 L213.9,268.1 L214.4,267.8 L214.8,267.5 L215.3,267.1 L215.8,266.7 L216.2,266.3 L216.7,265.9 L217.2,265.4 L217.6,264.8 L218.1,264.3 L218.6,263.7 L219.0,263.0 L219.5,262.4 L219.9,261.6 L220.4,260.8 L220.9,260.0 L221.3,259.1 L221.8,258.2 L222.3,257.2 L222.7,256.2 L223.2,255.1 L223.7,254.0 L224.1,252.8 L224.6,251.5 L225.1,250.2 L225.5,248.9 L226.0,247.5 L226.5,246.0 L226.9,244.5 L227.4,243.0 L227.8,241.4 L228.3,239.8 L228.8,238.1 L229.2,236.4 L229.7,234.7 L230.2,233.0 L230.6,231.2 L231.1,229.4 L231.6,227.6 L232.0,225.8 L232.5,224.0 L233.0,222.2 L233.4,220.4 L233.9,218.6 L234.4,216.9 L234.8,215.2 L235.3,213.5 L235.7,211.9 L236.2,210.3 L236.7,208.8 L237.1,207.3 L237.6,205.9 L238.1,204.6 L238.5,203.4 L239.0,202.3 L239.5,201.2 L239.9,200.2 L240.4,199.4 L240.9,198.6 L241.3,198.0 L241.8,197.5 L242.3,197.1 L242.7,196.8 L243.2,196.6 L243.7,196.5 L244.1,196.6 L244.6,196.8 L245.0,197.1 L245.5,197.5 L246.0,198.0 L246.4,198.6 L246.9,199.4 L247.4,200.2 L247.8,201.2 L248.3,202.3 L248.8,203.4 L249.2,204.6 L249.7,205.9 L250.2,207.3 L250.6,208.8 L251.1,210.3 L251.6,211.9 L252.0,213.5 L252.5,215.2 L252.9,216.9 L253.4,218.6 L253.9,220.4 L254.3,222.2 L254.8,224.0 L255.3,225.8 L255.7,227.6 L256.2,229.4 L256.7,231.2 L257.1,233.0 L257.6,234.7 L258.1,236.4 L258.5,238.1 L259.0,239.8 L259.5,241.4 L259.9,243.0 L260.4,244.5 L260.8,246.0 L261.3,247.5 L261.8,248.9 L262.2,250.2 L262.7,251.5 L263.2,252.8 L263.6,254.0 L264.1,255.1 L264.6,256.2 L265.0,257.2 L265.5,258.2 L266.0,259.1 L266.4,260.0 L266.9,260.8 L267.4,261.6 L267.8,262.4 L268.3,263.0 L268.7,263.7 L269.2,264.3 L269.7,264.8 L270.1,265.4 L270.6,265.9 L271.1,266.3 L271.5,266.7 L272.0,267.1 L272.5,267.5 L272.9,267.8 L273.4,268.1 L273.9,268.4 L274.3,268.6 L274.8,268.9 L275.3,269.1 L275.7,269.3 L276.2,269.4 L276.6,269.6 L277.1,269.7 L277.6,269.9 L278.0,270.0 L278.5,270.1 L279.0,270.2 L279.4,270.3 L279.9,270.3 L280.4,270.4 L280.8,270.5 L281.3,270.5 L281.8,270.6 L282.2,270.6 L282.7,270.6 L283.2,270.7 L283.6,270.7 L284.1,270.7 L284.5,270.7 L285.0,270.8 L285.5,270.8 L285.9,270.8 L286.4,270.8 L286.9,270.8 L287.3,270.8 L287.8,270.8 L288.3,270.9 L288.7,270.9 L289.2,270.9 L289.7,270.9 L290.1,270.9 L290.6,270.9 L291.1,270.9 L291.5,270.9 L292.0,270.9 L292.4,270.9 L292.9,270.9 L293.4,270.9 L293.8,270.9 L294.3,270.9 L294.8,270.9 L295.2,270.9 L295.7,270.9 L296.2,270.9 L296.6,270.9 L297.1,270.9 L297.6,270.9 L298.0,270.9 L298.5,270.9 L299.0,270.9 L299.4,270.9 L299.9,270.9 L300.3,270.9 L300.8,270.9 L301.3,270.9 L301.7,270.9 L302.2,270.9 L302.7,270.9 L303.1,270.9 L303.6,270.9 L304.1,270.9 L304.5,270.9 L305.0,270.9 L305.5,270.9 L305.9,270.9 L306.4,270.9 L306.9,270.9 L307.3,270.9 L307.8,270.9 L308.3,270.9 L308.7,270.9 L309.2,270.9 L309.6,270.9 L310.1,270.9 L310.6,270.9 L311.0,270.9 L311.5,270.9 L312.0,270.9 L312.4,270.9 L312.9,270.9 L313.4,270.9 L313.8,270.9 L314.3,270.9 L314.8,270.9 L315.2,270.9 L315.7,270.9 L316.2,270.9 L316.6,270.9 L317.1,270.9 L317.5,270.9 L318.0,270.9 L318.5,270.9 L318.9,270.9 L319.4,270.9 L319.9,270.9 L320.3,270.9 L320.8,270.9 L321.3,270.9 L321.7,270.9 L322.2,270.9 L322.7,270.9 L323.1,270.9 L323.6,270.9 L324.1,270.9 L324.5,270.9 L325.0,270.9 L325.4,270.9 L325.9,270.9 L326.4,270.9 L326.8,270.9 L327.3,270.9 L327.8,270.9 L328.2,270.9 L328.7,270.9 L329.2,270.9 L329.6,270.9 L330.1,270.9 L330.6,270.9 L331.0,270.9 L331.5,270.9 L332.0,270.9 L332.4,270.9 L332.9,270.9 L333.3,270.9 L333.8,270.9 L334.3,270.9 L334.7,270.9 L335.2,270.9 L335.7,270.9 L336.1,270.9 L336.6,270.9" fill="none" stroke="#0c0ca0" stroke-width="1.9" stroke-dasharray="1.9 6.4" stroke-dashoffset="1.0" stroke-linejoin="round"/>
<path d="M150.9,426.2 L152.0,426.2 L153.1,426.2 L154.2,426.2 L155.3,426.2 L156.3,426.2 L157.4,426.2 L158.5,426.2 L159.6,426.2 L160.7,426.2 L161.8,426.2 L162.9,426.2 L164.0,426.2 L165.0,426.2 L166.1,426.2 L167.2,426.2 L168.3,426.2 L169.4,426.2 L170.5,426.2 L171.6,426.2 L172.7,426.2 L173.8,426.2 L174.8,426.2 L175.9,426.2 L177.0,426.2 L178.1,426.2 L179.2,426.2 L180.3,426.2 L181.4,426.2 L182.5,426.2 L183.6,426.2 L184.6,426.2 L185.7,426.2 L186.8,426.2 L187.9,426.2 L189.0,426.2 L190.1,426.2 L191.2,426.2 L192.3,426.2 L193.3,426.2 L194.4,426.2 L195.5,426.2 L196.6,426.2 L197.7,426.2 L198.8,426.2 L199.9,426.2 L201.0,426.2 L202.1,426.2 L203.1,426.2 L204.2,426.2 L205.3,426.1 L206.4,426.1 L207.5,426.1 L208.6,426.0 L209.7,426.0 L210.8,425.9 L211.8,425.8 L212.9,425.7 L214.0,425.6 L215.1,425.4 L216.2,425.2 L217.3,425.0 L218.4,424.7 L219.5,424.4 L220.6,424.0 L221.6,423.5 L222.7,423.0 L223.8,422.5 L224.9,421.8 L226.0,421.1 L227.1,420.4 L228.2,419.5 L229.3,418.7 L230.3,417.8 L231.4,416.9 L232.5,415.9 L233.6,415.0 L234.7,414.1 L235.8,413.2 L236.9,412.4 L237.0,412.3 L237.1,412.2 L237.2,412.1 L237.3,412.1 L237.5,412.0 L237.6,411.9 L237.7,411.8 L237.8,411.8 L237.9,411.7 L238.0,411.6 L238.2,411.5 L238.3,411.5 L238.4,411.4 L238.5,411.3 L238.6,411.3 L238.7,411.2 L238.9,411.1 L239.0,411.1 L239.1,411.0 L239.2,410.9 L239.3,410.9 L239.4,410.8 L239.6,410.8 L239.7,410.7 L239.8,410.7 L239.9,410.6 L240.0,410.5 L240.1,410.5 L240.2,410.4 L240.4,410.4 L240.5,410.4 L240.6,410.3 L240.7,410.3 L240.8,410.2 L240.9,410.2 L241.1,410.1 L241.2,410.1 L241.3,410.1 L241.4,410.0 L241.5,410.0 L241.6,410.0 L241.8,409.9 L241.9,409.9 L242.0,409.9 L242.1,409.9 L242.2,409.8 L242.3,409.8 L242.5,409.8 L242.6,409.8 L242.7,409.8 L242.8,409.7 L242.9,409.7 L243.0,409.7 L243.2,409.7 L243.3,409.7 L243.4,409.7 L243.5,409.7 L243.6,409.7 L243.7,409.7 L243.9,409.7 L244.0,409.7 L244.1,409.7 L244.2,409.7 L244.3,409.7 L244.4,409.7 L244.5,409.7 L244.7,409.7 L244.8,409.7 L244.9,409.7 L245.0,409.8 L245.1,409.8 L245.2,409.8 L245.4,409.8 L245.5,409.8 L245.6,409.9 L245.7,409.9 L245.8,409.9 L245.9,409.9 L246.1,410.0 L246.2,410.0 L246.3,410.0 L246.4,410.1 L246.5,410.1 L246.6,410.1 L246.8,410.2 L246.9,410.2 L247.0,410.3 L247.1,410.3 L247.2,410.4 L247.3,410.4 L247.5,410.4 L247.6,410.5 L247.7,410.5 L247.8,410.6 L247.9,410.7 L248.0,410.7 L248.1,410.8 L248.3,410.8 L248.4,410.9 L248.5,410.9 L248.6,411.0 L248.7,411.1 L248.8,411.1 L249.0,411.2 L249.1,411.3 L249.2,411.3 L249.3,411.4 L249.4,411.5 L249.5,411.5 L249.7,411.6 L249.8,411.7 L249.9,411.8 L250.0,411.8 L250.1,411.9 L250.2,412.0 L250.4,412.1 L250.5,412.1 L250.6,412.2 L250.7,412.3 L250.8,412.4 L251.9,413.2 L253.0,414.1 L254.1,415.0 L255.2,415.9 L256.3,416.9 L257.4,417.8 L258.4,418.7 L259.5,419.5 L260.6,420.4 L261.7,421.1 L262.8,421.8 L263.9,422.5 L265.0,423.0 L266.1,423.5 L267.1,424.0 L268.2,424.4 L269.3,424.7 L270.4,425.0 L271.5,425.2 L272.6,425.4 L273.7,425.6 L274.8,425.7 L275.9,425.8 L276.9,425.9 L278.0,426.0 L279.1,426.0 L280.2,426.1 L281.3,426.1 L282.4,426.1 L283.5,426.2 L284.6,426.2 L285.6,426.2 L286.7,426.2 L287.8,426.2 L288.9,426.2 L290.0,426.2 L291.1,426.2 L292.2,426.2 L293.3,426.2 L294.4,426.2 L295.4,426.2 L296.5,426.2 L297.6,426.2 L298.7,426.2 L299.8,426.2 L300.9,426.2 L302.0,426.2 L303.1,426.2 L304.1,426.2 L305.2,426.2 L306.3,426.2 L307.4,426.2 L308.5,426.2 L309.6,426.2 L310.7,426.2 L311.8,426.2 L312.9,426.2 L313.9,426.2 L315.0,426.2 L316.1,426.2 L317.2,426.2 L318.3,426.2 L319.4,426.2 L320.5,426.2 L321.6,426.2 L322.7,426.2 L323.7,426.2 L324.8,426.2 L325.9,426.2 L327.0,426.2 L328.1,426.2 L329.2,426.2 L330.3,426.2 L331.4,426.2 L332.4,426.2 L333.5,426.2 L334.6,426.2 L335.7,426.2 L336.8,426.2" fill="none" stroke="#0c0ca0" stroke-width="1.9" stroke-dasharray="1.9 6.5" stroke-dashoffset="-0.3" stroke-linejoin="round"/>
<path d="M150.7,405.5 L151.8,405.5 L152.9,405.5 L154.0,405.5 L155.1,405.5 L156.1,405.5 L157.2,405.5 L158.3,405.5 L159.4,405.5 L160.5,405.5 L161.6,405.5 L162.7,405.5 L163.8,405.5 L164.8,405.5 L165.9,405.5 L167.0,405.5 L168.1,405.5 L169.2,405.5 L170.3,405.5 L171.4,405.5 L172.5,405.5 L173.6,405.5 L174.6,405.5 L175.7,405.5 L176.8,405.5 L177.9,405.5 L179.0,405.5 L180.1,405.4 L181.2,405.4 L182.3,405.4 L183.4,405.4 L184.4,405.4 L185.5,405.4 L186.6,405.4 L187.7,405.4 L188.8,405.4 L189.9,405.4 L191.0,405.4 L192.1,405.4 L193.1,405.3 L194.2,405.3 L195.3,405.3 L196.4,405.3 L197.5,405.3 L198.6,405.2 L199.7,405.2 L200.8,405.2 L201.9,405.1 L202.9,405.1 L204.0,405.0 L205.1,405.0 L206.2,404.9 L207.3,404.8 L208.4,404.8 L209.5,404.7 L210.6,404.6 L211.6,404.5 L212.7,404.3 L213.8,404.2 L214.9,404.0 L216.0,403.9 L217.1,403.7 L218.2,403.4 L219.3,403.2 L220.4,402.9 L221.4,402.6 L222.5,402.2 L223.6,401.8 L224.7,401.3 L225.8,400.8 L226.9,400.2 L228.0,399.6 L229.1,398.8 L230.1,398.0 L231.2,397.1 L232.3,396.0 L233.4,394.9 L234.5,393.6 L235.6,392.1 L236.7,390.4 L236.8,390.2 L236.9,390.0 L237.0,389.8 L237.1,389.6 L237.3,389.4 L237.4,389.2 L237.5,389.0 L237.6,388.8 L237.7,388.5 L237.8,388.3 L238.0,388.1 L238.1,387.9 L238.2,387.6 L238.3,387.4 L238.4,387.2 L238.5,386.9 L238.7,386.7 L238.8,386.4 L238.9,386.2 L239.0,385.9 L239.1,385.6 L239.2,385.4 L239.4,385.1 L239.5,384.8 L239.6,384.5 L239.7,384.2 L239.8,383.9 L239.9,383.6 L240.0,383.3 L240.2,382.9 L240.3,382.6 L240.4,382.2 L240.5,381.9 L240.6,381.5 L240.7,381.1 L240.9,380.7 L241.0,380.3 L241.1,379.9 L241.2,379.4 L241.3,379.0 L241.4,378.5 L241.6,378.0 L241.7,377.4 L241.8,376.9 L241.9,376.3 L242.0,375.6 L242.1,375.0 L242.3,374.3 L242.4,373.5 L242.5,372.8 L242.6,371.9 L242.7,371.0 L242.8,370.1 L243.0,369.1 L243.1,368.0 L243.2,366.8 L243.3,365.5 L243.4,364.2 L243.5,362.7 L243.7,361.1" fill="none" stroke="#ff1010" stroke-width="1.17" stroke-dasharray="3.4 3.1" stroke-dashoffset="0.6" stroke-linejoin="round"/>
<path d="M336.6,405.5 L335.5,405.5 L334.4,405.5 L333.3,405.5 L332.2,405.5 L331.2,405.5 L330.1,405.5 L329.0,405.5 L327.9,405.5 L326.8,405.5 L325.7,405.5 L324.6,405.5 L323.5,405.5 L322.5,405.5 L321.4,405.5 L320.3,405.5 L319.2,405.5 L318.1,405.5 L317.0,405.5 L315.9,405.5 L314.8,405.5 L313.7,405.5 L312.7,405.5 L311.6,405.5 L310.5,405.5 L309.4,405.5 L308.3,405.5 L307.2,405.4 L306.1,405.4 L305.0,405.4 L303.9,405.4 L302.9,405.4 L301.8,405.4 L300.7,405.4 L299.6,405.4 L298.5,405.4 L297.4,405.4 L296.3,405.4 L295.2,405.4 L294.2,405.3 L293.1,405.3 L292.0,405.3 L290.9,405.3 L289.8,405.3 L288.7,405.2 L287.6,405.2 L286.5,405.2 L285.4,405.1 L284.4,405.1 L283.3,405.0 L282.2,405.0 L281.1,404.9 L280.0,404.8 L278.9,404.8 L277.8,404.7 L276.7,404.6 L275.7,404.5 L274.6,404.3 L273.5,404.2 L272.4,404.0 L271.3,403.9 L270.2,403.7 L269.1,403.4 L268.0,403.2 L266.9,402.9 L265.9,402.6 L264.8,402.2 L263.7,401.8 L262.6,401.3 L261.5,400.8 L260.4,400.2 L259.3,399.6 L258.2,398.8 L257.2,398.0 L256.1,397.1 L255.0,396.0 L253.9,394.9 L252.8,393.6 L251.7,392.1 L250.6,390.4 L250.5,390.2 L250.4,390.0 L250.3,389.8 L250.2,389.6 L250.0,389.4 L249.9,389.2 L249.8,389.0 L249.7,388.8 L249.6,388.5 L249.5,388.3 L249.3,388.1 L249.2,387.9 L249.1,387.6 L249.0,387.4 L248.9,387.2 L248.8,386.9 L248.6,386.7 L248.5,386.4 L248.4,386.2 L248.3,385.9 L248.2,385.6 L248.1,385.4 L247.9,385.1 L247.8,384.8 L247.7,384.5 L247.6,384.2 L247.5,383.9 L247.4,383.6 L247.3,383.3 L247.1,382.9 L247.0,382.6 L246.9,382.2 L246.8,381.9 L246.7,381.5 L246.6,381.1 L246.4,380.7 L246.3,380.3 L246.2,379.9 L246.1,379.4 L246.0,379.0 L245.9,378.5 L245.7,378.0 L245.6,377.4 L245.5,376.9 L245.4,376.3 L245.3,375.6 L245.2,375.0 L245.0,374.3 L244.9,373.5 L244.8,372.8 L244.7,371.9 L244.6,371.0 L244.5,370.1 L244.3,369.1 L244.2,368.0 L244.1,366.8 L244.0,365.5 L243.9,364.2 L243.8,362.7 L243.7,361.1" fill="none" stroke="#ff1010" stroke-width="1.17" stroke-dasharray="3.4 3.1" stroke-dashoffset="1.7" stroke-linejoin="round"/>
<path d="M150.7,364.0 L151.8,364.0 L152.9,364.0 L154.0,364.0 L155.1,364.0 L156.1,364.0 L157.2,364.0 L158.3,364.0 L159.4,364.0 L160.5,364.0 L161.6,364.0 L162.7,364.0 L163.8,364.0 L164.8,364.0 L165.9,364.0 L167.0,364.0 L168.1,364.0 L169.2,364.0 L170.3,364.0 L171.4,364.0 L172.5,364.0 L173.6,364.0 L174.6,364.0 L175.7,364.0 L176.8,364.0 L177.9,364.0 L179.0,364.0 L180.1,364.0 L181.2,364.0 L182.3,364.0 L183.4,364.0 L184.4,364.0 L185.5,364.0 L186.6,364.0 L187.7,364.0 L188.8,364.0 L189.9,364.0 L191.0,364.0 L192.1,364.0 L193.1,364.0 L194.2,364.0 L195.3,364.0 L196.4,364.0 L197.5,364.0 L198.6,364.0 L199.7,364.0 L200.8,364.0 L201.9,364.0 L202.9,364.0 L204.0,364.0 L205.1,364.0 L206.2,364.0 L207.3,364.0 L208.4,364.0 L209.5,364.0 L210.6,364.0 L211.6,364.0 L212.7,364.0 L213.8,364.0 L214.9,364.0 L216.0,364.0 L217.1,364.0 L218.2,364.0 L219.3,364.0 L220.4,364.0 L221.4,364.0 L222.5,364.0 L223.6,364.0 L224.7,364.0 L225.8,364.0 L226.9,364.0 L228.0,364.0 L229.1,364.0 L230.1,364.0 L231.2,364.0 L232.3,364.0 L233.4,364.0 L234.5,364.0 L235.6,364.0 L236.7,364.0 L236.8,364.0 L236.9,364.0 L237.0,364.0 L237.1,364.0 L237.3,364.0 L237.4,364.0 L237.5,364.0 L237.6,364.0 L237.7,364.0 L237.8,364.0 L238.0,364.0 L238.1,364.0 L238.2,364.0 L238.3,364.0 L238.4,364.0 L238.5,364.0 L238.7,364.0 L238.8,364.0 L238.9,364.0 L239.0,364.0 L239.1,364.0 L239.2,364.0 L239.4,364.0 L239.5,364.0 L239.6,364.0 L239.7,364.0 L239.8,364.0 L239.9,364.0 L240.0,364.0 L240.2,364.0 L240.3,364.0 L240.4,364.0 L240.5,364.0 L240.6,364.0 L240.7,364.0 L240.9,363.9 L241.0,363.9 L241.1,363.8 L241.2,363.6 L241.3,363.3 L241.4,362.9 L241.6,362.4 L241.7,361.6 L241.8,360.5 L241.9,359.1 L242.0,357.3 L242.1,355.1 L242.3,352.3 L242.4,348.9 L242.5,345.1 L242.6,340.8 L242.7,336.1 L242.8,331.1 L243.0,326.2 L243.1,321.4 L243.2,317.0 L243.3,313.3 L243.4,310.5 L243.5,308.7 L243.7,308.1 L243.8,308.7 L243.9,310.5 L244.0,313.3 L244.1,317.0 L244.2,321.4 L244.3,326.2 L244.5,331.1 L244.6,336.1 L244.7,340.8 L244.8,345.1 L244.9,348.9 L245.0,352.3 L245.2,355.1 L245.3,357.3 L245.4,359.1 L245.5,360.5 L245.6,361.6 L245.7,362.4 L245.9,362.9 L246.0,363.3 L246.1,363.6 L246.2,363.8 L246.3,363.9 L246.4,363.9 L246.6,364.0 L246.7,364.0 L246.8,364.0 L246.9,364.0 L247.0,364.0 L247.1,364.0 L247.3,364.0 L247.4,364.0 L247.5,364.0 L247.6,364.0 L247.7,364.0 L247.8,364.0 L247.9,364.0 L248.1,364.0 L248.2,364.0 L248.3,364.0 L248.4,364.0 L248.5,364.0 L248.6,364.0 L248.8,364.0 L248.9,364.0 L249.0,364.0 L249.1,364.0 L249.2,364.0 L249.3,364.0 L249.5,364.0 L249.6,364.0 L249.7,364.0 L249.8,364.0 L249.9,364.0 L250.0,364.0 L250.2,364.0 L250.3,364.0 L250.4,364.0 L250.5,364.0 L250.6,364.0 L251.7,364.0 L252.8,364.0 L253.9,364.0 L255.0,364.0 L256.1,364.0 L257.2,364.0 L258.2,364.0 L259.3,364.0 L260.4,364.0 L261.5,364.0 L262.6,364.0 L263.7,364.0 L264.8,364.0 L265.9,364.0 L266.9,364.0 L268.0,364.0 L269.1,364.0 L270.2,364.0 L271.3,364.0 L272.4,364.0 L273.5,364.0 L274.6,364.0 L275.7,364.0 L276.7,364.0 L277.8,364.0 L278.9,364.0 L280.0,364.0 L281.1,364.0 L282.2,364.0 L283.3,364.0 L284.4,364.0 L285.4,364.0 L286.5,364.0 L287.6,364.0 L288.7,364.0 L289.8,364.0 L290.9,364.0 L292.0,364.0 L293.1,364.0 L294.2,364.0 L295.2,364.0 L296.3,364.0 L297.4,364.0 L298.5,364.0 L299.6,364.0 L300.7,364.0 L301.8,364.0 L302.9,364.0 L303.9,364.0 L305.0,364.0 L306.1,364.0 L307.2,364.0 L308.3,364.0 L309.4,364.0 L310.5,364.0 L311.6,364.0 L312.7,364.0 L313.7,364.0 L314.8,364.0 L315.9,364.0 L317.0,364.0 L318.1,364.0 L319.2,364.0 L320.3,364.0 L321.4,364.0 L322.5,364.0 L323.5,364.0 L324.6,364.0 L325.7,364.0 L326.8,364.0 L327.9,364.0 L329.0,364.0 L330.1,364.0 L331.2,364.0 L332.2,364.0 L333.3,364.0 L334.4,364.0 L335.5,364.0 L336.6,364.0" fill="none" stroke="#ff1010" stroke-width="1.35" stroke-linejoin="round"/>
<path d="M150.7,384.8 L151.8,384.8 L152.9,384.8 L154.0,384.8 L155.1,384.8 L156.1,384.8 L157.2,384.8 L158.3,384.8 L159.4,384.8 L160.5,384.8 L161.6,384.8 L162.7,384.8 L163.8,384.8 L164.8,384.8 L165.9,384.8 L167.0,384.8 L168.1,384.8 L169.2,384.8 L170.3,384.8 L171.4,384.8 L172.5,384.8 L173.6,384.8 L174.6,384.8 L175.7,384.8 L176.8,384.8 L177.9,384.8 L179.0,384.8 L180.1,384.8 L181.2,384.8 L182.3,384.8 L183.4,384.8 L184.4,384.8 L185.5,384.8 L186.6,384.8 L187.7,384.8 L188.8,384.8 L189.9,384.8 L191.0,384.8 L192.1,384.8 L193.1,384.8 L194.2,384.8 L195.3,384.8 L196.4,384.8 L197.5,384.8 L198.6,384.8 L199.7,384.8 L200.8,384.8 L201.9,384.8 L202.9,384.8 L204.0,384.8 L205.1,384.8 L206.2,384.8 L207.3,384.8 L208.4,384.8 L209.5,384.8 L210.6,384.8 L211.6,384.8 L212.7,384.8 L213.8,384.8 L214.9,384.8 L216.0,384.8 L217.1,384.8 L218.2,384.8 L219.3,384.8 L220.4,384.8 L221.4,384.8 L222.5,384.8 L223.6,384.8 L224.7,384.8 L225.8,384.8 L226.9,384.8 L228.0,384.8 L229.1,384.8 L230.1,384.8 L231.2,384.8 L232.3,384.8 L233.4,384.8 L234.5,384.8 L235.6,384.8 L236.7,384.8 L236.8,384.8 L236.9,384.8 L237.0,384.8 L237.1,384.8 L237.3,384.8 L237.4,384.8 L237.5,384.8 L237.6,384.8 L237.7,384.8 L237.8,384.8 L238.0,384.7 L238.1,384.7 L238.2,384.7 L238.3,384.7 L238.4,384.7 L238.5,384.7 L238.7,384.7 L238.8,384.7 L238.9,384.7 L239.0,384.7 L239.1,384.7 L239.2,384.7 L239.4,384.6 L239.5,384.6 L239.6,384.6 L239.7,384.6 L239.8,384.5 L239.9,384.5 L240.0,384.5 L240.2,384.4 L240.3,384.3 L240.4,384.3 L240.5,384.2 L240.6,384.1 L240.7,384.0 L240.9,383.8 L241.0,383.7 L241.1,383.5 L241.2,383.3 L241.3,383.0 L241.4,382.7 L241.6,382.4 L241.7,382.0 L241.8,381.5 L241.9,380.9 L242.0,380.3 L242.1,379.5 L242.3,378.7 L242.4,377.6 L242.5,376.4 L242.6,375.0 L242.7,373.4 L242.8,371.4 L243.0,369.2 L243.1,366.6 L243.2,363.5 L243.3,359.9 L243.4,355.7 L243.5,350.7 L243.7,345.0" fill="none" stroke="#151515" stroke-width="1.05" stroke-dasharray="8.2 3.6 1.1 3.6" stroke-dashoffset="0.0" stroke-linejoin="round"/>
<path d="M336.6,384.8 L335.5,384.8 L334.4,384.8 L333.3,384.8 L332.2,384.8 L331.2,384.8 L330.1,384.8 L329.0,384.8 L327.9,384.8 L326.8,384.8 L325.7,384.8 L324.6,384.8 L323.5,384.8 L322.5,384.8 L321.4,384.8 L320.3,384.8 L319.2,384.8 L318.1,384.8 L317.0,384.8 L315.9,384.8 L314.8,384.8 L313.7,384.8 L312.7,384.8 L311.6,384.8 L310.5,384.8 L309.4,384.8 L308.3,384.8 L307.2,384.8 L306.1,384.8 L305.0,384.8 L303.9,384.8 L302.9,384.8 L301.8,384.8 L300.7,384.8 L299.6,384.8 L298.5,384.8 L297.4,384.8 L296.3,384.8 L295.2,384.8 L294.2,384.8 L293.1,384.8 L292.0,384.8 L290.9,384.8 L289.8,384.8 L288.7,384.8 L287.6,384.8 L286.5,384.8 L285.4,384.8 L284.4,384.8 L283.3,384.8 L282.2,384.8 L281.1,384.8 L280.0,384.8 L278.9,384.8 L277.8,384.8 L276.7,384.8 L275.7,384.8 L274.6,384.8 L273.5,384.8 L272.4,384.8 L271.3,384.8 L270.2,384.8 L269.1,384.8 L268.0,384.8 L266.9,384.8 L265.9,384.8 L264.8,384.8 L263.7,384.8 L262.6,384.8 L261.5,384.8 L260.4,384.8 L259.3,384.8 L258.2,384.8 L257.2,384.8 L256.1,384.8 L255.0,384.8 L253.9,384.8 L252.8,384.8 L251.7,384.8 L250.6,384.8 L250.5,384.8 L250.4,384.8 L250.3,384.8 L250.2,384.8 L250.0,384.8 L249.9,384.8 L249.8,384.8 L249.7,384.8 L249.6,384.8 L249.5,384.8 L249.3,384.7 L249.2,384.7 L249.1,384.7 L249.0,384.7 L248.9,384.7 L248.8,384.7 L248.6,384.7 L248.5,384.7 L248.4,384.7 L248.3,384.7 L248.2,384.7 L248.1,384.7 L247.9,384.6 L247.8,384.6 L247.7,384.6 L247.6,384.6 L247.5,384.5 L247.4,384.5 L247.3,384.5 L247.1,384.4 L247.0,384.3 L246.9,384.3 L246.8,384.2 L246.7,384.1 L246.6,384.0 L246.4,383.8 L246.3,383.7 L246.2,383.5 L246.1,383.3 L246.0,383.0 L245.9,382.7 L245.7,382.4 L245.6,382.0 L245.5,381.5 L245.4,380.9 L245.3,380.3 L245.2,379.5 L245.0,378.7 L244.9,377.6 L244.8,376.4 L244.7,375.0 L244.6,373.4 L244.5,371.4 L244.3,369.2 L244.2,366.6 L244.1,363.5 L244.0,359.9 L243.9,355.7 L243.8,350.7 L243.7,345.0" fill="none" stroke="#151515" stroke-width="1.05" stroke-dasharray="8.2 3.6 1.1 3.6" stroke-dashoffset="0.0" stroke-linejoin="round"/>
<path d="M151.0,549.4 L151.5,549.3 L151.9,549.3 L152.4,549.3 L152.9,549.3 L153.3,549.2 L153.8,549.2 L154.3,549.2 L154.7,549.1 L155.2,549.1 L155.6,549.1 L156.1,549.0 L156.6,549.0 L157.0,549.0 L157.5,548.9 L158.0,548.9 L158.4,548.8 L158.9,548.8 L159.4,548.8 L159.8,548.7 L160.3,548.7 L160.8,548.6 L161.2,548.6 L161.7,548.6 L162.2,548.5 L162.6,548.5 L163.1,548.4 L163.5,548.4 L164.0,548.3 L164.5,548.3 L164.9,548.2 L165.4,548.2 L165.9,548.1 L166.3,548.0 L166.8,548.0 L167.3,547.9 L167.7,547.9 L168.2,547.8 L168.7,547.8 L169.1,547.7 L169.6,547.6 L170.1,547.6 L170.5,547.5 L171.0,547.4 L171.4,547.4 L171.9,547.3 L172.4,547.2 L172.8,547.1 L173.3,547.1 L173.8,547.0 L174.2,546.9 L174.7,546.8 L175.2,546.8 L175.6,546.7 L176.1,546.6 L176.6,546.5 L177.0,546.4 L177.5,546.3 L178.0,546.3 L178.4,546.2 L178.9,546.1 L179.3,546.0 L179.8,545.9 L180.3,545.8 L180.7,545.7 L181.2,545.6 L181.7,545.5 L182.1,545.4 L182.6,545.3 L183.1,545.2 L183.5,545.1 L184.0,545.0 L184.5,544.9 L184.9,544.8 L185.4,544.7 L185.9,544.6 L186.3,544.5 L186.8,544.4 L187.3,544.3 L187.7,544.1 L188.2,544.0 L188.6,543.9 L189.1,543.8 L189.6,543.7 L190.0,543.6 L190.5,543.4 L191.0,543.3 L191.4,543.2 L191.9,543.1 L192.4,542.9 L192.8,542.8 L193.3,542.7 L193.8,542.6 L194.2,542.4 L194.7,542.3 L195.2,542.2 L195.6,542.0 L196.1,541.9 L196.5,541.8 L197.0,541.6 L197.5,541.5 L197.9,541.4 L198.4,541.2 L198.9,541.1 L199.3,540.9 L199.8,540.8 L200.3,540.7 L200.7,540.5 L201.2,540.4 L201.7,540.2 L202.1,540.1 L202.6,540.0 L203.1,539.8 L203.5,539.7 L204.0,539.5 L204.4,539.4 L204.9,539.2 L205.4,539.1 L205.8,538.9 L206.3,538.8 L206.8,538.7 L207.2,538.5 L207.7,538.4 L208.2,538.2 L208.6,538.1 L209.1,537.9 L209.6,537.8 L210.0,537.7 L210.5,537.5 L211.0,537.4 L211.4,537.2 L211.9,537.1 L212.3,536.9 L212.8,536.8 L213.3,536.7 L213.7,536.5 L214.2,536.4 L214.7,536.2 L215.1,536.1 L215.6,536.0 L216.1,535.8 L216.5,535.7 L217.0,535.6 L217.5,535.4 L217.9,535.3 L218.4,535.2 L218.9,535.1 L219.3,534.9 L219.8,534.8 L220.2,534.7 L220.7,534.6 L221.2,534.4 L221.6,534.3 L222.1,534.2 L222.6,534.1 L223.0,534.0 L223.5,533.8 L224.0,533.7 L224.4,533.6 L224.9,533.5 L225.4,533.4 L225.8,533.3 L226.3,533.2 L226.8,533.1 L227.2,533.0 L227.7,532.9 L228.1,532.8 L228.6,532.7 L229.1,532.6 L229.5,532.6 L230.0,532.5 L230.5,532.4 L230.9,532.3 L231.4,532.2 L231.9,532.2 L232.3,532.1 L232.8,532.0 L233.3,531.9 L233.7,531.9 L234.2,531.8 L234.7,531.8 L235.1,531.7 L235.6,531.7 L236.0,531.6 L236.5,531.6 L237.0,531.5 L237.4,531.5 L237.9,531.4 L238.4,531.4 L238.8,531.4 L239.3,531.3 L239.8,531.3 L240.2,531.3 L240.7,531.2 L241.2,531.2 L241.6,531.2 L242.1,531.2 L242.6,531.2 L243.0,531.2 L243.5,531.2 L244.0,531.2 L244.4,531.2 L244.9,531.2 L245.3,531.2 L245.8,531.2 L246.3,531.2 L246.7,531.2 L247.2,531.2 L247.7,531.3 L248.1,531.3 L248.6,531.3 L249.1,531.4 L249.5,531.4 L250.0,531.4 L250.5,531.5 L250.9,531.5 L251.4,531.6 L251.9,531.6 L252.3,531.7 L252.8,531.7 L253.2,531.8 L253.7,531.8 L254.2,531.9 L254.6,531.9 L255.1,532.0 L255.6,532.1 L256.0,532.2 L256.5,532.2 L257.0,532.3 L257.4,532.4 L257.9,532.5 L258.4,532.6 L258.8,532.6 L259.3,532.7 L259.8,532.8 L260.2,532.9 L260.7,533.0 L261.1,533.1 L261.6,533.2 L262.1,533.3 L262.5,533.4 L263.0,533.5 L263.5,533.6 L263.9,533.7 L264.4,533.8 L264.9,534.0 L265.3,534.1 L265.8,534.2 L266.3,534.3 L266.7,534.4 L267.2,534.6 L267.7,534.7 L268.1,534.8 L268.6,534.9 L269.0,535.1 L269.5,535.2 L270.0,535.3 L270.4,535.4 L270.9,535.6 L271.4,535.7 L271.8,535.8 L272.3,536.0 L272.8,536.1 L273.2,536.2 L273.7,536.4 L274.2,536.5 L274.6,536.7 L275.1,536.8 L275.6,536.9 L276.0,537.1 L276.5,537.2 L276.9,537.4 L277.4,537.5 L277.9,537.7 L278.3,537.8 L278.8,537.9 L279.3,538.1 L279.7,538.2 L280.2,538.4 L280.7,538.5 L281.1,538.7 L281.6,538.8 L282.1,538.9 L282.5,539.1 L283.0,539.2 L283.5,539.4 L283.9,539.5 L284.4,539.7 L284.8,539.8 L285.3,540.0 L285.8,540.1 L286.2,540.2 L286.7,540.4 L287.2,540.5 L287.6,540.7 L288.1,540.8 L288.6,540.9 L289.0,541.1 L289.5,541.2 L290.0,541.4 L290.4,541.5 L290.9,541.6 L291.4,541.8 L291.8,541.9 L292.3,542.0 L292.7,542.2 L293.2,542.3 L293.7,542.4 L294.1,542.6 L294.6,542.7 L295.1,542.8 L295.5,542.9 L296.0,543.1 L296.5,543.2 L296.9,543.3 L297.4,543.4 L297.9,543.6 L298.3,543.7 L298.8,543.8 L299.3,543.9 L299.7,544.0 L300.2,544.1 L300.6,544.3 L301.1,544.4 L301.6,544.5 L302.0,544.6 L302.5,544.7 L303.0,544.8 L303.4,544.9 L303.9,545.0 L304.4,545.1 L304.8,545.2 L305.3,545.3 L305.8,545.4 L306.2,545.5 L306.7,545.6 L307.2,545.7 L307.6,545.8 L308.1,545.9 L308.6,546.0 L309.0,546.1 L309.5,546.2 L309.9,546.3 L310.4,546.3 L310.9,546.4 L311.3,546.5 L311.8,546.6 L312.3,546.7 L312.7,546.8 L313.2,546.8 L313.7,546.9 L314.1,547.0 L314.6,547.1 L315.1,547.1 L315.5,547.2 L316.0,547.3 L316.5,547.4 L316.9,547.4 L317.4,547.5 L317.8,547.6 L318.3,547.6 L318.8,547.7 L319.2,547.8 L319.7,547.8 L320.2,547.9 L320.6,547.9 L321.1,548.0 L321.6,548.0 L322.0,548.1 L322.5,548.2 L323.0,548.2 L323.4,548.3 L323.9,548.3 L324.4,548.4 L324.8,548.4 L325.3,548.5 L325.7,548.5 L326.2,548.6 L326.7,548.6 L327.1,548.6 L327.6,548.7 L328.1,548.7 L328.5,548.8 L329.0,548.8 L329.5,548.8 L329.9,548.9 L330.4,548.9 L330.9,549.0 L331.3,549.0 L331.8,549.0 L332.3,549.1 L332.7,549.1 L333.2,549.1 L333.6,549.2 L334.1,549.2 L334.6,549.2 L335.0,549.3 L335.5,549.3 L336.0,549.3 L336.4,549.3 L336.9,549.4" fill="none" stroke="#0c0ca0" stroke-width="1.9" stroke-dasharray="1.9 6.6" stroke-dashoffset="0.2" stroke-linejoin="round"/>
<path d="M150.9,534.0 L151.4,534.0 L151.8,534.0 L152.3,534.0 L152.8,533.9 L153.2,533.9 L153.7,533.9 L154.2,533.9 L154.6,533.8 L155.1,533.8 L155.5,533.8 L156.0,533.7 L156.5,533.7 L156.9,533.7 L157.4,533.6 L157.9,533.6 L158.3,533.6 L158.8,533.5 L159.3,533.5 L159.7,533.5 L160.2,533.4 L160.7,533.4 L161.1,533.4 L161.6,533.3 L162.1,533.3 L162.5,533.2 L163.0,533.2 L163.4,533.1 L163.9,533.1 L164.4,533.0 L164.8,533.0 L165.3,532.9 L165.8,532.9 L166.2,532.8 L166.7,532.8 L167.2,532.7 L167.6,532.7 L168.1,532.6 L168.6,532.6 L169.0,532.5 L169.5,532.4 L170.0,532.4 L170.4,532.3 L170.9,532.2 L171.3,532.2 L171.8,532.1 L172.3,532.0 L172.7,532.0 L173.2,531.9 L173.7,531.8 L174.1,531.8 L174.6,531.7 L175.1,531.6 L175.5,531.5 L176.0,531.5 L176.5,531.4 L176.9,531.3 L177.4,531.2 L177.9,531.1 L178.3,531.0 L178.8,531.0 L179.2,530.9 L179.7,530.8 L180.2,530.7 L180.6,530.6 L181.1,530.5 L181.6,530.4 L182.0,530.3 L182.5,530.2 L183.0,530.1 L183.4,530.0 L183.9,529.9 L184.4,529.8 L184.8,529.7 L185.3,529.6 L185.8,529.5 L186.2,529.4 L186.7,529.2 L187.2,529.1 L187.6,529.0 L188.1,528.9 L188.5,528.8 L189.0,528.7 L189.5,528.5 L189.9,528.4 L190.4,528.3 L190.9,528.2 L191.3,528.1 L191.8,527.9 L192.3,527.8 L192.7,527.7 L193.2,527.5 L193.7,527.4 L194.1,527.3 L194.6,527.1 L195.1,527.0 L195.5,526.9 L196.0,526.7 L196.4,526.6 L196.9,526.5 L197.4,526.3 L197.8,526.2 L198.3,526.0 L198.8,525.9 L199.2,525.8 L199.7,525.6 L200.2,525.5 L200.6,525.3 L201.1,525.2 L201.6,525.0 L202.0,524.9 L202.5,524.7 L203.0,524.6 L203.4,524.4 L203.9,524.3 L204.3,524.1 L204.8,524.0 L205.3,523.8 L205.7,523.7 L206.2,523.5 L206.7,523.4 L207.1,523.2 L207.6,523.1 L208.1,522.9 L208.5,522.8 L209.0,522.6 L209.5,522.5 L209.9,522.3 L210.4,522.2 L210.9,522.0 L211.3,521.9 L211.8,521.7 L212.2,521.6 L212.7,521.4 L213.2,521.3 L213.6,521.1 L214.1,521.0 L214.6,520.8 L215.0,520.7 L215.5,520.5 L216.0,520.4 L216.4,520.3 L216.9,520.1 L217.4,520.0 L217.8,519.8 L218.3,519.7 L218.8,519.6 L219.2,519.4 L219.7,519.3 L220.1,519.2 L220.6,519.0 L221.1,518.9 L221.5,518.8 L222.0,518.6 L222.5,518.5 L222.9,518.4 L223.4,518.3 L223.9,518.2 L224.3,518.0 L224.8,517.9 L225.3,517.8 L225.7,517.7 L226.2,517.6 L226.7,517.5 L227.1,517.4 L227.6,517.3 L228.0,517.2 L228.5,517.1 L229.0,517.0 L229.4,516.9 L229.9,516.8 L230.4,516.7 L230.8,516.6 L231.3,516.5 L231.8,516.5 L232.2,516.4 L232.7,516.3 L233.2,516.2 L233.6,516.2 L234.1,516.1 L234.6,516.0 L235.0,516.0 L235.5,515.9 L235.9,515.9 L236.4,515.8 L236.9,515.8 L237.3,515.7 L237.8,515.7 L238.3,515.6 L238.7,515.6 L239.2,515.6 L239.7,515.5 L240.1,515.5 L240.6,515.5 L241.1,515.5 L241.5,515.4 L242.0,515.4 L242.5,515.4 L242.9,515.4 L243.4,515.4 L243.9,515.4 L244.3,515.4 L244.8,515.4 L245.2,515.4 L245.7,515.4 L246.2,515.4 L246.6,515.5 L247.1,515.5 L247.6,515.5 L248.0,515.5 L248.5,515.6 L249.0,515.6 L249.4,515.6 L249.9,515.7 L250.4,515.7 L250.8,515.8 L251.3,515.8 L251.8,515.9 L252.2,515.9 L252.7,516.0 L253.1,516.0 L253.6,516.1 L254.1,516.2 L254.5,516.2 L255.0,516.3 L255.5,516.4 L255.9,516.5 L256.4,516.5 L256.9,516.6 L257.3,516.7 L257.8,516.8 L258.3,516.9 L258.7,517.0 L259.2,517.1 L259.7,517.2 L260.1,517.3 L260.6,517.4 L261.0,517.5 L261.5,517.6 L262.0,517.7 L262.4,517.8 L262.9,517.9 L263.4,518.0 L263.8,518.2 L264.3,518.3 L264.8,518.4 L265.2,518.5 L265.7,518.6 L266.2,518.8 L266.6,518.9 L267.1,519.0 L267.6,519.2 L268.0,519.3 L268.5,519.4 L268.9,519.6 L269.4,519.7 L269.9,519.8 L270.3,520.0 L270.8,520.1 L271.3,520.3 L271.7,520.4 L272.2,520.5 L272.7,520.7 L273.1,520.8 L273.6,521.0 L274.1,521.1 L274.5,521.3 L275.0,521.4 L275.5,521.6 L275.9,521.7 L276.4,521.9 L276.8,522.0 L277.3,522.2 L277.8,522.3 L278.2,522.5 L278.7,522.6 L279.2,522.8 L279.6,522.9 L280.1,523.1 L280.6,523.2 L281.0,523.4 L281.5,523.5 L282.0,523.7 L282.4,523.8 L282.9,524.0 L283.4,524.1 L283.8,524.3 L284.3,524.4 L284.7,524.6 L285.2,524.7 L285.7,524.9 L286.1,525.0 L286.6,525.2 L287.1,525.3 L287.5,525.5 L288.0,525.6 L288.5,525.8 L288.9,525.9 L289.4,526.0 L289.9,526.2 L290.3,526.3 L290.8,526.5 L291.3,526.6 L291.7,526.7 L292.2,526.9 L292.6,527.0 L293.1,527.1 L293.6,527.3 L294.0,527.4 L294.5,527.5 L295.0,527.7 L295.4,527.8 L295.9,527.9 L296.4,528.1 L296.8,528.2 L297.3,528.3 L297.8,528.4 L298.2,528.5 L298.7,528.7 L299.2,528.8 L299.6,528.9 L300.1,529.0 L300.5,529.1 L301.0,529.2 L301.5,529.4 L301.9,529.5 L302.4,529.6 L302.9,529.7 L303.3,529.8 L303.8,529.9 L304.3,530.0 L304.7,530.1 L305.2,530.2 L305.7,530.3 L306.1,530.4 L306.6,530.5 L307.1,530.6 L307.5,530.7 L308.0,530.8 L308.5,530.9 L308.9,531.0 L309.4,531.0 L309.8,531.1 L310.3,531.2 L310.8,531.3 L311.2,531.4 L311.7,531.5 L312.2,531.5 L312.6,531.6 L313.1,531.7 L313.6,531.8 L314.0,531.8 L314.5,531.9 L315.0,532.0 L315.4,532.0 L315.9,532.1 L316.4,532.2 L316.8,532.2 L317.3,532.3 L317.7,532.4 L318.2,532.4 L318.7,532.5 L319.1,532.6 L319.6,532.6 L320.1,532.7 L320.5,532.7 L321.0,532.8 L321.5,532.8 L321.9,532.9 L322.4,532.9 L322.9,533.0 L323.3,533.0 L323.8,533.1 L324.3,533.1 L324.7,533.2 L325.2,533.2 L325.6,533.3 L326.1,533.3 L326.6,533.4 L327.0,533.4 L327.5,533.4 L328.0,533.5 L328.4,533.5 L328.9,533.5 L329.4,533.6 L329.8,533.6 L330.3,533.6 L330.8,533.7 L331.2,533.7 L331.7,533.7 L332.2,533.8 L332.6,533.8 L333.1,533.8 L333.5,533.9 L334.0,533.9 L334.5,533.9 L334.9,533.9 L335.4,534.0 L335.9,534.0 L336.3,534.0 L336.8,534.0" fill="none" stroke="#151515" stroke-width="1.02" stroke-dasharray="3.4 3.1" stroke-dashoffset="5.7" stroke-linejoin="round"/>
<path d="M150.7,519.3 L151.2,519.3 L151.6,519.3 L152.1,519.3 L152.6,519.3 L153.0,519.3 L153.5,519.3 L154.0,519.3 L154.4,519.3 L154.9,519.3 L155.3,519.3 L155.8,519.3 L156.3,519.3 L156.7,519.3 L157.2,519.3 L157.7,519.3 L158.1,519.3 L158.6,519.3 L159.1,519.3 L159.5,519.3 L160.0,519.3 L160.5,519.3 L160.9,519.3 L161.4,519.3 L161.9,519.3 L162.3,519.3 L162.8,519.3 L163.2,519.3 L163.7,519.3 L164.2,519.3 L164.6,519.3 L165.1,519.3 L165.6,519.3 L166.0,519.3 L166.5,519.3 L167.0,519.3 L167.4,519.3 L167.9,519.3 L168.4,519.3 L168.8,519.3 L169.3,519.3 L169.8,519.3 L170.2,519.3 L170.7,519.3 L171.1,519.3 L171.6,519.3 L172.1,519.3 L172.5,519.3 L173.0,519.3 L173.5,519.3 L173.9,519.3 L174.4,519.3 L174.9,519.3 L175.3,519.3 L175.8,519.3 L176.3,519.3 L176.7,519.3 L177.2,519.3 L177.7,519.3 L178.1,519.3 L178.6,519.3 L179.0,519.3 L179.5,519.3 L180.0,519.3 L180.4,519.3 L180.9,519.3 L181.4,519.3 L181.8,519.3 L182.3,519.3 L182.8,519.3 L183.2,519.3 L183.7,519.3 L184.2,519.3 L184.6,519.3 L185.1,519.3 L185.6,519.3 L186.0,519.3 L186.5,519.3 L187.0,519.3 L187.4,519.3 L187.9,519.3 L188.3,519.3 L188.8,519.3 L189.3,519.3 L189.7,519.3 L190.2,519.3 L190.7,519.3 L191.1,519.3 L191.6,519.3 L192.1,519.3 L192.5,519.3 L193.0,519.3 L193.5,519.3 L193.9,519.3 L194.4,519.3 L194.9,519.3 L195.3,519.3 L195.8,519.3 L196.2,519.3 L196.7,519.3 L197.2,519.3 L197.6,519.3 L198.1,519.3 L198.6,519.3 L199.0,519.3 L199.5,519.3 L200.0,519.3 L200.4,519.3 L200.9,519.3 L201.4,519.3 L201.8,519.3 L202.3,519.3 L202.8,519.3 L203.2,519.3 L203.7,519.3 L204.1,519.3 L204.6,519.3 L205.1,519.3 L205.5,519.3 L206.0,519.3 L206.5,519.3 L206.9,519.3 L207.4,519.3 L207.9,519.3 L208.3,519.3 L208.8,519.3 L209.3,519.3 L209.7,519.3 L210.2,519.3 L210.7,519.3 L211.1,519.3 L211.6,519.3 L212.0,519.3 L212.5,519.3 L213.0,519.3 L213.4,519.3 L213.9,519.3 L214.4,519.3 L214.8,519.3 L215.3,519.3 L215.8,519.3 L216.2,519.3 L216.7,519.3 L217.2,519.3 L217.6,519.3 L218.1,519.3 L218.6,519.3 L219.0,519.3 L219.5,519.3 L219.9,519.3 L220.4,519.3 L220.9,519.3 L221.3,519.3 L221.8,519.3 L222.3,519.3 L222.7,519.3 L223.2,519.3 L223.7,519.3 L224.1,519.3 L224.6,519.3 L225.1,519.3 L225.5,519.3 L226.0,519.3 L226.5,519.3 L226.9,519.3 L227.4,519.3 L227.8,519.3 L228.3,519.3 L228.8,519.3 L229.2,519.2 L229.7,519.2 L230.2,519.2 L230.6,519.2 L231.1,519.1 L231.6,519.1 L232.0,519.0 L232.5,518.8 L233.0,518.6 L233.4,518.4 L233.9,518.0 L234.4,517.6 L234.8,517.0 L235.3,516.2 L235.7,515.2 L236.2,514.0 L236.7,512.6 L237.1,510.9 L237.6,508.9 L238.1,506.7 L238.5,504.2 L239.0,501.6 L239.5,498.7 L239.9,495.8 L240.4,492.9 L240.9,490.1 L241.3,487.5 L241.8,485.1 L242.3,483.2 L242.7,481.8 L243.2,480.9 L243.7,480.6 L244.1,480.9 L244.6,481.8 L245.0,483.2 L245.5,485.1 L246.0,487.5 L246.4,490.1 L246.9,492.9 L247.4,495.8 L247.8,498.7 L248.3,501.6 L248.8,504.2 L249.2,506.7 L249.7,508.9 L250.2,510.9 L250.6,512.6 L251.1,514.0 L251.6,515.2 L252.0,516.2 L252.5,517.0 L252.9,517.6 L253.4,518.0 L253.9,518.4 L254.3,518.6 L254.8,518.8 L255.3,519.0 L255.7,519.1 L256.2,519.1 L256.7,519.2 L257.1,519.2 L257.6,519.2 L258.1,519.2 L258.5,519.3 L259.0,519.3 L259.5,519.3 L259.9,519.3 L260.4,519.3 L260.8,519.3 L261.3,519.3 L261.8,519.3 L262.2,519.3 L262.7,519.3 L263.2,519.3 L263.6,519.3 L264.1,519.3 L264.6,519.3 L265.0,519.3 L265.5,519.3 L266.0,519.3 L266.4,519.3 L266.9,519.3 L267.4,519.3 L267.8,519.3 L268.3,519.3 L268.7,519.3 L269.2,519.3 L269.7,519.3 L270.1,519.3 L270.6,519.3 L271.1,519.3 L271.5,519.3 L272.0,519.3 L272.5,519.3 L272.9,519.3 L273.4,519.3 L273.9,519.3 L274.3,519.3 L274.8,519.3 L275.3,519.3 L275.7,519.3 L276.2,519.3 L276.6,519.3 L277.1,519.3 L277.6,519.3 L278.0,519.3 L278.5,519.3 L279.0,519.3 L279.4,519.3 L279.9,519.3 L280.4,519.3 L280.8,519.3 L281.3,519.3 L281.8,519.3 L282.2,519.3 L282.7,519.3 L283.2,519.3 L283.6,519.3 L284.1,519.3 L284.5,519.3 L285.0,519.3 L285.5,519.3 L285.9,519.3 L286.4,519.3 L286.9,519.3 L287.3,519.3 L287.8,519.3 L288.3,519.3 L288.7,519.3 L289.2,519.3 L289.7,519.3 L290.1,519.3 L290.6,519.3 L291.1,519.3 L291.5,519.3 L292.0,519.3 L292.4,519.3 L292.9,519.3 L293.4,519.3 L293.8,519.3 L294.3,519.3 L294.8,519.3 L295.2,519.3 L295.7,519.3 L296.2,519.3 L296.6,519.3 L297.1,519.3 L297.6,519.3 L298.0,519.3 L298.5,519.3 L299.0,519.3 L299.4,519.3 L299.9,519.3 L300.3,519.3 L300.8,519.3 L301.3,519.3 L301.7,519.3 L302.2,519.3 L302.7,519.3 L303.1,519.3 L303.6,519.3 L304.1,519.3 L304.5,519.3 L305.0,519.3 L305.5,519.3 L305.9,519.3 L306.4,519.3 L306.9,519.3 L307.3,519.3 L307.8,519.3 L308.3,519.3 L308.7,519.3 L309.2,519.3 L309.6,519.3 L310.1,519.3 L310.6,519.3 L311.0,519.3 L311.5,519.3 L312.0,519.3 L312.4,519.3 L312.9,519.3 L313.4,519.3 L313.8,519.3 L314.3,519.3 L314.8,519.3 L315.2,519.3 L315.7,519.3 L316.2,519.3 L316.6,519.3 L317.1,519.3 L317.5,519.3 L318.0,519.3 L318.5,519.3 L318.9,519.3 L319.4,519.3 L319.9,519.3 L320.3,519.3 L320.8,519.3 L321.3,519.3 L321.7,519.3 L322.2,519.3 L322.7,519.3 L323.1,519.3 L323.6,519.3 L324.1,519.3 L324.5,519.3 L325.0,519.3 L325.4,519.3 L325.9,519.3 L326.4,519.3 L326.8,519.3 L327.3,519.3 L327.8,519.3 L328.2,519.3 L328.7,519.3 L329.2,519.3 L329.6,519.3 L330.1,519.3 L330.6,519.3 L331.0,519.3 L331.5,519.3 L332.0,519.3 L332.4,519.3 L332.9,519.3 L333.3,519.3 L333.8,519.3 L334.3,519.3 L334.7,519.3 L335.2,519.3 L335.7,519.3 L336.1,519.3 L336.6,519.3" fill="none" stroke="#151515" stroke-width="1.05" stroke-dasharray="8.2 3.6 1.1 3.6" stroke-dashoffset="0.0" stroke-linejoin="round"/>
<path d="M150.7,503.8 L151.2,503.8 L151.6,503.8 L152.1,503.8 L152.6,503.8 L153.0,503.8 L153.5,503.8 L154.0,503.8 L154.4,503.8 L154.9,503.8 L155.3,503.8 L155.8,503.8 L156.3,503.8 L156.7,503.8 L157.2,503.8 L157.7,503.8 L158.1,503.8 L158.6,503.8 L159.1,503.8 L159.5,503.8 L160.0,503.8 L160.5,503.8 L160.9,503.8 L161.4,503.8 L161.9,503.8 L162.3,503.8 L162.8,503.8 L163.2,503.8 L163.7,503.8 L164.2,503.8 L164.6,503.8 L165.1,503.8 L165.6,503.8 L166.0,503.8 L166.5,503.8 L167.0,503.8 L167.4,503.8 L167.9,503.8 L168.4,503.8 L168.8,503.8 L169.3,503.8 L169.8,503.8 L170.2,503.8 L170.7,503.8 L171.1,503.8 L171.6,503.8 L172.1,503.8 L172.5,503.8 L173.0,503.8 L173.5,503.8 L173.9,503.8 L174.4,503.8 L174.9,503.8 L175.3,503.8 L175.8,503.8 L176.3,503.8 L176.7,503.8 L177.2,503.8 L177.7,503.8 L178.1,503.8 L178.6,503.8 L179.0,503.8 L179.5,503.8 L180.0,503.8 L180.4,503.8 L180.9,503.8 L181.4,503.8 L181.8,503.8 L182.3,503.8 L182.8,503.8 L183.2,503.8 L183.7,503.8 L184.2,503.8 L184.6,503.8 L185.1,503.8 L185.6,503.8 L186.0,503.8 L186.5,503.8 L187.0,503.8 L187.4,503.8 L187.9,503.8 L188.3,503.8 L188.8,503.8 L189.3,503.8 L189.7,503.8 L190.2,503.8 L190.7,503.8 L191.1,503.8 L191.6,503.8 L192.1,503.8 L192.5,503.8 L193.0,503.8 L193.5,503.8 L193.9,503.8 L194.4,503.8 L194.9,503.8 L195.3,503.8 L195.8,503.8 L196.2,503.8 L196.7,503.8 L197.2,503.8 L197.6,503.8 L198.1,503.8 L198.6,503.8 L199.0,503.8 L199.5,503.8 L200.0,503.8 L200.4,503.8 L200.9,503.8 L201.4,503.8 L201.8,503.8 L202.3,503.8 L202.8,503.8 L203.2,503.8 L203.7,503.8 L204.1,503.8 L204.6,503.8 L205.1,503.8 L205.5,503.8 L206.0,503.8 L206.5,503.8 L206.9,503.8 L207.4,503.8 L207.9,503.8 L208.3,503.8 L208.8,503.8 L209.3,503.8 L209.7,503.8 L210.2,503.8 L210.7,503.8 L211.1,503.8 L211.6,503.8 L212.0,503.8 L212.5,503.8 L213.0,503.8 L213.4,503.8 L213.9,503.8 L214.4,503.8 L214.8,503.8 L215.3,503.8 L215.8,503.8 L216.2,503.8 L216.7,503.8 L217.2,503.8 L217.6,503.8 L218.1,503.8 L218.6,503.8 L219.0,503.8 L219.5,503.8 L219.9,503.8 L220.4,503.8 L220.9,503.8 L221.3,503.8 L221.8,503.8 L222.3,503.8 L222.7,503.8 L223.2,503.8 L223.7,503.8 L224.1,503.8 L224.6,503.8 L225.1,503.8 L225.5,503.8 L226.0,503.8 L226.5,503.8 L226.9,503.8 L227.4,503.8 L227.8,503.8 L228.3,503.8 L228.8,503.8 L229.2,503.7 L229.7,503.7 L230.2,503.6 L230.6,503.6 L231.1,503.5 L231.6,503.3 L232.0,503.1 L232.5,502.9 L233.0,502.6 L233.4,502.1 L233.9,501.6 L234.4,500.9 L234.8,500.1 L235.3,499.1 L235.7,497.9 L236.2,496.4 L236.7,494.8 L237.1,492.9 L237.6,490.8 L238.1,488.5 L238.5,486.0 L239.0,483.4 L239.5,480.7 L239.9,478.0 L240.4,475.4 L240.9,472.9 L241.3,470.6 L241.8,468.6 L242.3,466.9 L242.7,465.7 L243.2,464.9 L243.7,464.7 L244.1,464.9 L244.6,465.7 L245.0,466.9 L245.5,468.6 L246.0,470.6 L246.4,472.9 L246.9,475.4 L247.4,478.0 L247.8,480.7 L248.3,483.4 L248.8,486.0 L249.2,488.5 L249.7,490.8 L250.2,492.9 L250.6,494.8 L251.1,496.4 L251.6,497.9 L252.0,499.1 L252.5,500.1 L252.9,500.9 L253.4,501.6 L253.9,502.1 L254.3,502.6 L254.8,502.9 L255.3,503.1 L255.7,503.3 L256.2,503.5 L256.7,503.6 L257.1,503.6 L257.6,503.7 L258.1,503.7 L258.5,503.8 L259.0,503.8 L259.5,503.8 L259.9,503.8 L260.4,503.8 L260.8,503.8 L261.3,503.8 L261.8,503.8 L262.2,503.8 L262.7,503.8 L263.2,503.8 L263.6,503.8 L264.1,503.8 L264.6,503.8 L265.0,503.8 L265.5,503.8 L266.0,503.8 L266.4,503.8 L266.9,503.8 L267.4,503.8 L267.8,503.8 L268.3,503.8 L268.7,503.8 L269.2,503.8 L269.7,503.8 L270.1,503.8 L270.6,503.8 L271.1,503.8 L271.5,503.8 L272.0,503.8 L272.5,503.8 L272.9,503.8 L273.4,503.8 L273.9,503.8 L274.3,503.8 L274.8,503.8 L275.3,503.8 L275.7,503.8 L276.2,503.8 L276.6,503.8 L277.1,503.8 L277.6,503.8 L278.0,503.8 L278.5,503.8 L279.0,503.8 L279.4,503.8 L279.9,503.8 L280.4,503.8 L280.8,503.8 L281.3,503.8 L281.8,503.8 L282.2,503.8 L282.7,503.8 L283.2,503.8 L283.6,503.8 L284.1,503.8 L284.5,503.8 L285.0,503.8 L285.5,503.8 L285.9,503.8 L286.4,503.8 L286.9,503.8 L287.3,503.8 L287.8,503.8 L288.3,503.8 L288.7,503.8 L289.2,503.8 L289.7,503.8 L290.1,503.8 L290.6,503.8 L291.1,503.8 L291.5,503.8 L292.0,503.8 L292.4,503.8 L292.9,503.8 L293.4,503.8 L293.8,503.8 L294.3,503.8 L294.8,503.8 L295.2,503.8 L295.7,503.8 L296.2,503.8 L296.6,503.8 L297.1,503.8 L297.6,503.8 L298.0,503.8 L298.5,503.8 L299.0,503.8 L299.4,503.8 L299.9,503.8 L300.3,503.8 L300.8,503.8 L301.3,503.8 L301.7,503.8 L302.2,503.8 L302.7,503.8 L303.1,503.8 L303.6,503.8 L304.1,503.8 L304.5,503.8 L305.0,503.8 L305.5,503.8 L305.9,503.8 L306.4,503.8 L306.9,503.8 L307.3,503.8 L307.8,503.8 L308.3,503.8 L308.7,503.8 L309.2,503.8 L309.6,503.8 L310.1,503.8 L310.6,503.8 L311.0,503.8 L311.5,503.8 L312.0,503.8 L312.4,503.8 L312.9,503.8 L313.4,503.8 L313.8,503.8 L314.3,503.8 L314.8,503.8 L315.2,503.8 L315.7,503.8 L316.2,503.8 L316.6,503.8 L317.1,503.8 L317.5,503.8 L318.0,503.8 L318.5,503.8 L318.9,503.8 L319.4,503.8 L319.9,503.8 L320.3,503.8 L320.8,503.8 L321.3,503.8 L321.7,503.8 L322.2,503.8 L322.7,503.8 L323.1,503.8 L323.6,503.8 L324.1,503.8 L324.5,503.8 L325.0,503.8 L325.4,503.8 L325.9,503.8 L326.4,503.8 L326.8,503.8 L327.3,503.8 L327.8,503.8 L328.2,503.8 L328.7,503.8 L329.2,503.8 L329.6,503.8 L330.1,503.8 L330.6,503.8 L331.0,503.8 L331.5,503.8 L332.0,503.8 L332.4,503.8 L332.9,503.8 L333.3,503.8 L333.8,503.8 L334.3,503.8 L334.7,503.8 L335.2,503.8 L335.7,503.8 L336.1,503.8 L336.6,503.8" fill="none" stroke="#ff1010" stroke-width="1.05" stroke-linejoin="round"/>
<text x="149.80" y="160.40" font-size="13.50" text-anchor="middle" fill="#000" letter-spacing="-1.1">-4</text>
<text x="196.28" y="160.40" font-size="13.50" text-anchor="middle" fill="#000" letter-spacing="-1.1">-2</text>
<text x="244.05" y="160.40" font-size="13.50" text-anchor="middle" fill="#000" >0</text>
<text x="290.53" y="160.40" font-size="13.50" text-anchor="middle" fill="#000" >2</text>
<text x="337.00" y="160.40" font-size="13.50" text-anchor="middle" fill="#000" >4</text>
<text x="243.55" y="170.10" font-size="14.00" text-anchor="middle" fill="#000" >x</text>
<text x="149.80" y="282.40" font-size="13.50" text-anchor="middle" fill="#000" letter-spacing="-1.1">-4</text>
<text x="196.28" y="282.40" font-size="13.50" text-anchor="middle" fill="#000" letter-spacing="-1.1">-2</text>
<text x="244.05" y="282.40" font-size="13.50" text-anchor="middle" fill="#000" >0</text>
<text x="290.53" y="282.40" font-size="13.50" text-anchor="middle" fill="#000" >2</text>
<text x="337.00" y="282.40" font-size="13.50" text-anchor="middle" fill="#000" >4</text>
<text x="243.55" y="292.10" font-size="14.00" text-anchor="middle" fill="#000" >p</text>
<text x="149.80" y="437.70" font-size="13.50" text-anchor="middle" fill="#000" letter-spacing="-1.1">-4</text>
<text x="196.28" y="437.70" font-size="13.50" text-anchor="middle" fill="#000" letter-spacing="-1.1">-2</text>
<text x="244.05" y="437.70" font-size="13.50" text-anchor="middle" fill="#000" >0</text>
<text x="290.53" y="437.70" font-size="13.50" text-anchor="middle" fill="#000" >2</text>
<text x="337.00" y="437.70" font-size="13.50" text-anchor="middle" fill="#000" >4</text>
<text x="243.55" y="447.40" font-size="14.00" text-anchor="middle" fill="#000" >u</text>
<text x="149.80" y="561.70" font-size="13.50" text-anchor="middle" fill="#000" letter-spacing="-1.1">-4</text>
<text x="196.28" y="561.70" font-size="13.50" text-anchor="middle" fill="#000" letter-spacing="-1.1">-2</text>
<text x="244.05" y="561.70" font-size="13.50" text-anchor="middle" fill="#000" >0</text>
<text x="290.53" y="561.70" font-size="13.50" text-anchor="middle" fill="#000" >2</text>
<text x="337.00" y="561.70" font-size="13.50" text-anchor="middle" fill="#000" >4</text>
<text x="241.75" y="576.80" font-size="16.00" text-anchor="middle" fill="#000" >ζ</text>
<text x="149.20" y="153.25" font-size="13.50" text-anchor="end" fill="#000" >0</text>
<text x="149.50" y="137.05" font-size="13.50" text-anchor="end" fill="#000" letter-spacing="0.3">0.1</text>
<text x="149.50" y="121.15" font-size="13.50" text-anchor="end" fill="#000" letter-spacing="0.3">0.2</text>
<text x="149.50" y="105.25" font-size="13.50" text-anchor="end" fill="#000" letter-spacing="0.3">0.3</text>
<text x="149.50" y="89.35" font-size="13.50" text-anchor="end" fill="#000" letter-spacing="0.3">0.4</text>
<text x="149.50" y="73.45" font-size="13.50" text-anchor="end" fill="#000" letter-spacing="0.3">0.5</text>
<text x="149.50" y="57.55" font-size="13.50" text-anchor="end" fill="#000" letter-spacing="0.3">0.6</text>
<text x="149.20" y="275.25" font-size="13.50" text-anchor="end" fill="#000" >0</text>
<text x="149.50" y="256.31" font-size="13.50" text-anchor="end" fill="#000" letter-spacing="0.3">0.2</text>
<text x="149.50" y="237.67" font-size="13.50" text-anchor="end" fill="#000" letter-spacing="0.3">0.4</text>
<text x="149.50" y="219.03" font-size="13.50" text-anchor="end" fill="#000" letter-spacing="0.3">0.6</text>
<text x="149.50" y="200.39" font-size="13.50" text-anchor="end" fill="#000" letter-spacing="0.3">0.8</text>
<text x="149.20" y="181.75" font-size="13.50" text-anchor="end" fill="#000" >1</text>
<text x="149.20" y="430.55" font-size="13.50" text-anchor="end" fill="#000" >0</text>
<text x="149.20" y="409.53" font-size="13.50" text-anchor="end" fill="#000" >5</text>
<text x="149.50" y="388.82" font-size="13.50" text-anchor="end" fill="#000" letter-spacing="0.3">10</text>
<text x="149.50" y="368.10" font-size="13.50" text-anchor="end" fill="#000" letter-spacing="0.3">15</text>
<text x="149.50" y="347.38" font-size="13.50" text-anchor="end" fill="#000" letter-spacing="0.3">20</text>
<text x="149.50" y="326.67" font-size="13.50" text-anchor="end" fill="#000" letter-spacing="0.3">25</text>
<text x="149.50" y="305.95" font-size="13.50" text-anchor="end" fill="#000" letter-spacing="0.3">30</text>
<text x="149.20" y="554.55" font-size="13.50" text-anchor="end" fill="#000" >0</text>
<text x="149.20" y="538.78" font-size="13.50" text-anchor="end" fill="#000" >1</text>
<text x="149.20" y="523.32" font-size="13.50" text-anchor="end" fill="#000" >2</text>
<text x="149.20" y="507.85" font-size="13.50" text-anchor="end" fill="#000" >3</text>
<text x="149.20" y="492.38" font-size="13.50" text-anchor="end" fill="#000" >4</text>
<text x="149.20" y="476.92" font-size="13.50" text-anchor="end" fill="#000" >5</text>
<text x="149.20" y="461.45" font-size="13.50" text-anchor="end" fill="#000" >6</text>
<text transform="translate(123.20,100.40) rotate(-90)" font-size="12.8" text-anchor="middle" letter-spacing="0.8" fill="#000">P(x)</text>
<text transform="translate(123.00,222.90) rotate(-90)" font-size="12.8" text-anchor="middle" letter-spacing="0.8" fill="#000">P(p)</text>
<text transform="translate(125.40,362.00) rotate(-90)" font-size="12.8" text-anchor="middle" letter-spacing="0.8" fill="#000">P(u)</text>
<text transform="translate(127.50,502.70) rotate(-90)" font-size="12.8" text-anchor="middle" letter-spacing="1.4" fill="#000">P(ζ)</text>
<text x="170.20" y="75.80" font-size="13.50" text-anchor="middle" fill="#000" >(a)</text>
<text x="172.90" y="202.20" font-size="13.50" text-anchor="middle" fill="#000" >(b)</text>
<text x="170.30" y="321.70" font-size="13.50" text-anchor="middle" fill="#000" >(c)</text>
<text x="172.60" y="477.40" font-size="13.50" text-anchor="middle" fill="#000" >(d)</text>
<text x="295.8" y="136.8" font-size="11" textLength="32.6" lengthAdjust="spacing" fill="#000">T=0.25</text>
<text x="295.3" y="198.8" font-size="11" textLength="33.7" lengthAdjust="spacing" fill="#000">(a,b,τ)</text>
<text x="292.8" y="212.30" font-size="11" textLength="35.0" lengthAdjust="spacing" fill="#000">(1,0,10)</text>
<path d="M262.2,208.60 h8.3 M274.1,208.60 h1.1 M277.6,208.60 h8.4" stroke="#151515" stroke-width="1.0" fill="none"/>
<text x="292.8" y="224.70" font-size="11" textLength="37.5" lengthAdjust="spacing" fill="#000">(1,0,0.1)</text>
<rect x="267.50" y="220.10" width="1.8" height="1.8" fill="#0c0ca0"/>
<rect x="273.60" y="220.10" width="1.8" height="1.8" fill="#0c0ca0"/>
<rect x="279.30" y="220.10" width="1.8" height="1.8" fill="#0c0ca0"/>
<rect x="284.80" y="220.10" width="1.8" height="1.8" fill="#0c0ca0"/>
<text x="292.8" y="237.20" font-size="11" textLength="35.0" lengthAdjust="spacing" fill="#000">(0,1,10)</text>
<path d="M262.2,233.50 h8.3 M274.1,233.50 h1.1 M277.6,233.50 h8.4" stroke="#151515" stroke-width="1.0" fill="none"/>
<text x="292.8" y="249.90" font-size="11" textLength="37.5" lengthAdjust="spacing" fill="#000">(0,1,0.1)</text>
<rect x="267.50" y="245.30" width="1.8" height="1.8" fill="#0c0ca0"/>
<rect x="273.60" y="245.30" width="1.8" height="1.8" fill="#0c0ca0"/>
<rect x="279.30" y="245.30" width="1.8" height="1.8" fill="#0c0ca0"/>
<rect x="284.80" y="245.30" width="1.8" height="1.8" fill="#0c0ca0"/>
<path d="M308.80,395.00 l7.4,7.8 M316.20,395.00 l-7.4,7.8" stroke="#000" stroke-width="0.8" fill="none"/>
<text x="319.40" y="403.00" font-size="12.20" text-anchor="start" fill="#000" >5</text>
<path d="M309.80,416.20 l7.4,7.8 M317.20,416.20 l-7.4,7.8" stroke="#000" stroke-width="0.8" fill="none"/>
<text x="320.40" y="424.20" font-size="12.20" text-anchor="start" fill="#000" >5</text>
<path d="M309.00,523.50 l7.4,7.8 M316.40,523.50 l-7.4,7.8" stroke="#000" stroke-width="0.8" fill="none"/>
<text x="319.60" y="531.50" font-size="12.20" text-anchor="start" fill="#000" >5</text>
<path d="M309.00,538.00 l7.4,7.8 M316.40,538.00 l-7.4,7.8" stroke="#000" stroke-width="0.8" fill="none"/>
<text x="319.60" y="546.00" font-size="12.20" text-anchor="start" fill="#000" >5</text>
</svg>
</body></html>
